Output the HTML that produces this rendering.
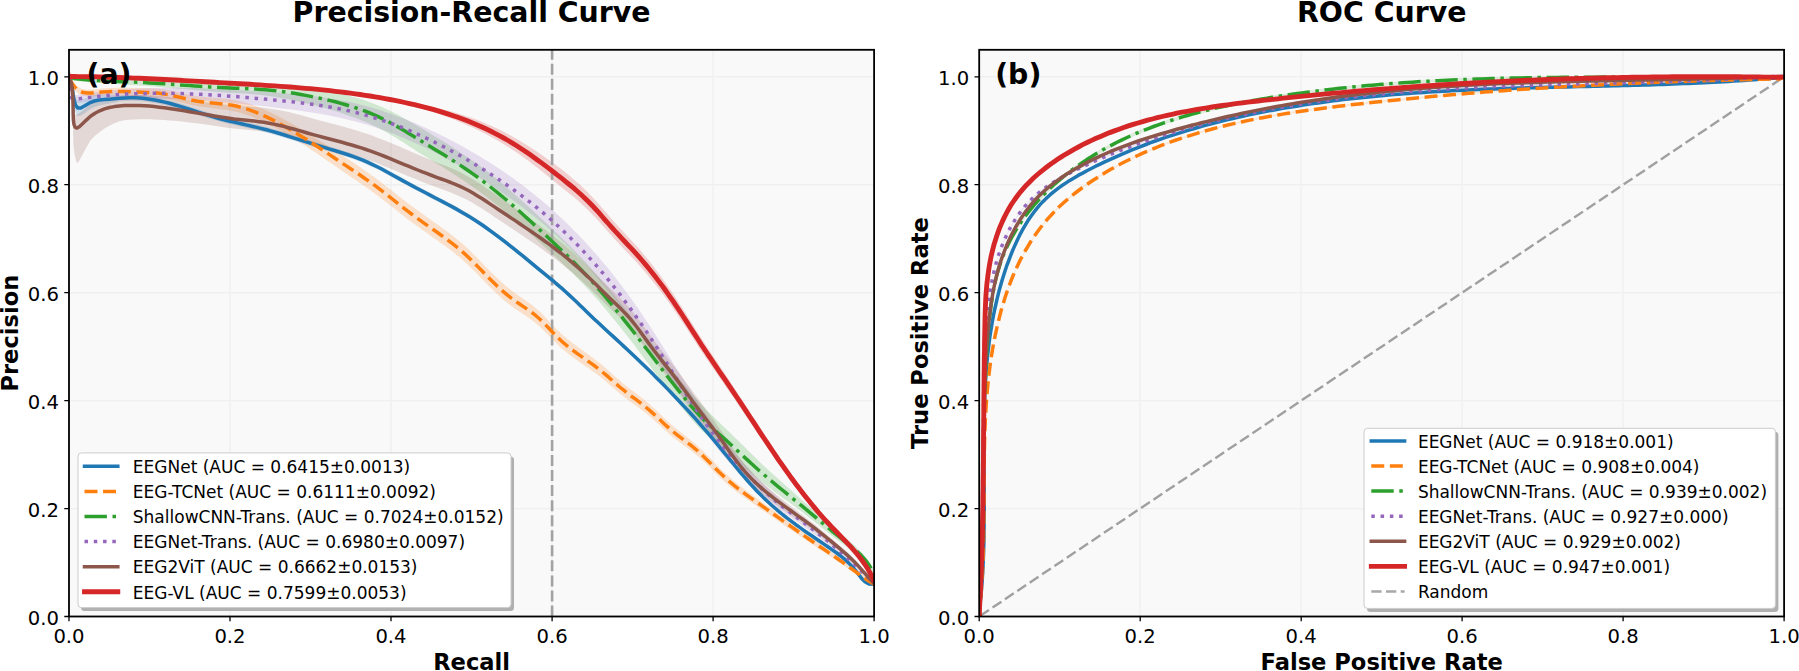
<!DOCTYPE html>
<html><head><meta charset="utf-8"><title>Precision-Recall and ROC Curves</title>
<style>
html,body{margin:0;padding:0;background:#fff;}
body{width:1799px;height:671px;overflow:hidden;}
svg{display:block;}
text{font-family:"DejaVu Sans","Liberation Sans",sans-serif;fill:#000;}
.tk{font-size:19.6px;}
.lg{font-size:17px;}
.ti{font-size:28.4px;font-weight:bold;}
.lb{font-size:22.6px;font-weight:bold;}
.pl{font-size:28.3px;font-weight:bold;}
</style></head><body>
<svg width="1799" height="671" viewBox="0 0 1799 671">
<rect width="100%" height="100%" fill="#fff"/>
<rect x="69" y="49.8" width="805.1" height="566.7" fill="#f9f9f9"/>
<clipPath id="cl"><rect x="69" y="49.8" width="805.1" height="566.7"/></clipPath>
<path d="M69,49.8V616.5M69,616.5H874.1M230,49.8V616.5M69,508.6H874.1M391,49.8V616.5M69,400.6H874.1M552.1,49.8V616.5M69,292.7H874.1M713.1,49.8V616.5M69,184.7H874.1M874.1,49.8V616.5M69,76.8H874.1" stroke="#f0f0f0" stroke-width="1.4" fill="none"/>
<g clip-path="url(#cl)">
<path d="M69,73 L71.2,76.4 L72.2,81.8 L73.1,87.7 L74.1,93.4 L75.5,97.7 L77.6,100 L80.8,100.4 L84.8,98.7 L89.5,96.4 L94.4,95 L99.3,94.6 L104.3,94.8 L109.4,95 L114.5,95.1 L119.6,95.2 L124.7,94.9 L129.7,94.8 L134.8,94.9 L139.8,95.1 L144.8,95.6 L149.8,96.3 L154.7,97.1 L159.7,98.1 L164.6,99.2 L169.5,100.4 L174.4,101.8 L179.3,103.2 L184.2,104.7 L189.1,106.3 L193.9,107.9 L198.8,109.5 L203.6,111 L208.4,112.5 L213.3,114 L218.1,115.4 L222.9,116.6 L227.8,117.9 L232.6,119 L237.4,120.2 L242.2,121.3 L247.1,122.4 L251.9,123.5 L256.8,124.6 L261.6,125.8 L266.5,127.1 L271.3,128.4 L276.2,129.8 L281.1,131.3 L286,132.8 L290.9,134.4 L295.8,135.9 L300.6,137.5 L305.5,139.1 L310.4,140.6 L315.2,142.1 L320.1,143.5 L324.9,145 L329.7,146.4 L334.5,147.9 L339.3,149.4 L344.1,150.9 L348.8,152.5 L353.5,154.1 L358.2,155.8 L362.8,157.7 L367.4,159.6 L372,161.7 L376.6,163.9 L381.2,166.3 L385.7,168.7 L390.2,171.2 L394.7,173.6 L399.1,176.1 L403.6,178.6 L408,181 L412.4,183.4 L416.8,185.7 L421.2,188.1 L425.6,190.4 L430,192.7 L434.4,195 L438.9,197.4 L443.4,199.7 L447.9,202.1 L452.4,204.5 L456.9,207 L461.3,209.5 L465.7,212.1 L470,214.7 L474.3,217.4 L478.5,220.2 L482.7,223 L486.8,225.9 L490.8,228.8 L494.9,231.8 L498.9,234.8 L502.9,237.8 L506.8,240.9 L510.8,244 L514.7,247.2 L518.6,250.3 L522.5,253.5 L526.4,256.7 L530.3,259.9 L534.2,263.2 L538.1,266.4 L542.1,269.7 L546.1,273 L550.1,276.3 L554.1,279.6 L558,282.9 L561.9,286.2 L565.6,289.6 L569.3,293 L572.9,296.3 L576.4,299.7 L579.9,303.1 L583.4,306.5 L586.9,309.9 L590.5,313.4 L594.1,316.8 L597.8,320.2 L601.5,323.7 L605.2,327.2 L609,330.6 L612.8,334.1 L616.6,337.6 L620.3,341 L624.1,344.5 L627.8,348 L631.5,351.5 L635.2,355 L638.9,358.5 L642.5,362.1 L646.2,365.6 L649.8,369.1 L653.4,372.7 L656.9,376.2 L660.5,379.8 L664,383.4 L667.5,387 L671,390.6 L674.5,394.2 L677.9,397.9 L681.4,401.5 L684.8,405.2 L688.2,408.9 L691.6,412.6 L694.9,416.4 L698.3,420.1 L701.6,423.9 L704.9,427.7 L708.2,431.5 L711.4,435.4 L714.7,439.2 L717.9,443.1 L721.1,447 L724.3,451 L727.5,454.9 L730.7,458.8 L733.9,462.7 L737.1,466.7 L740.3,470.5 L743.6,474.4 L746.9,478.2 L750.3,482 L753.7,485.8 L757.1,489.4 L760.7,493.1 L764.2,496.6 L767.9,500.1 L771.6,503.5 L775.4,506.8 L779.3,510.1 L783.2,513.3 L787.2,516.4 L791.2,519.5 L795.3,522.5 L799.4,525.5 L803.5,528.4 L807.6,531.3 L811.8,534.2 L816,537.1 L820.1,539.9 L824.3,542.8 L828.5,545.6 L832.6,548.5 L836.7,551.4 L840.7,554.5 L844.5,557.7 L848.3,561 L851.8,564.7 L855.2,568.6 L858.4,572.8 L861.6,576.9 L865,580.3 L869,582.5 L874.1,582.7 L874.1,585.7 L869,585.5 L865,583.4 L861.6,579.9 L858.4,575.8 L855.2,571.7 L851.8,567.8 L848.3,564.2 L844.5,560.8 L840.7,557.6 L836.7,554.6 L832.6,551.7 L828.5,548.8 L824.3,546 L820.1,543.2 L816,540.3 L811.8,537.5 L807.6,534.6 L803.5,531.7 L799.4,528.8 L795.3,525.8 L791.2,522.8 L787.2,519.8 L783.2,516.6 L779.3,513.5 L775.4,510.2 L771.6,506.9 L767.9,503.6 L764.2,500.1 L760.7,496.5 L757.1,492.9 L753.7,489.3 L750.3,485.5 L746.9,481.8 L743.6,478 L740.3,474.1 L737.1,470.2 L733.9,466.3 L730.7,462.4 L727.5,458.5 L724.3,454.6 L721.1,450.7 L717.9,446.8 L714.7,442.9 L711.4,439.1 L708.2,435.2 L704.9,431.4 L701.6,427.6 L698.3,423.9 L694.9,420.1 L691.6,416.4 L688.2,412.7 L684.8,409 L681.4,405.4 L677.9,401.7 L674.5,398.1 L671,394.5 L667.5,390.9 L664,387.3 L660.5,383.7 L656.9,380.2 L653.4,376.6 L649.8,373.1 L646.2,369.5 L642.5,366 L638.9,362.5 L635.2,359 L631.5,355.5 L627.8,352.1 L624.1,348.6 L620.3,345.1 L616.6,341.7 L612.8,338.2 L609,334.7 L605.2,331.3 L601.5,327.8 L597.8,324.4 L594.1,321 L590.5,317.6 L586.9,314.2 L583.4,310.7 L579.9,307.4 L576.4,304 L572.9,300.6 L569.3,297.2 L565.6,293.9 L561.9,290.6 L558,287.2 L554.1,283.9 L550.1,280.6 L546.1,277.3 L542.1,274.1 L538.1,270.8 L534.2,267.6 L530.3,264.4 L526.4,261.2 L522.5,258 L518.6,254.8 L514.7,251.7 L510.8,248.6 L506.8,245.5 L502.9,242.4 L498.9,239.4 L494.9,236.4 L490.8,233.4 L486.8,230.5 L482.7,227.7 L478.5,224.9 L474.3,222.1 L470,219.4 L465.7,216.8 L461.3,214.2 L456.9,211.7 L452.4,209.3 L447.9,206.9 L443.4,204.5 L438.9,202.2 L434.4,199.9 L430,197.6 L425.6,195.3 L421.2,193 L416.8,190.7 L412.4,188.3 L408,186 L403.6,183.6 L399.1,181.1 L394.7,178.7 L390.2,176.2 L385.7,173.7 L381.2,171.3 L376.6,169 L372,166.8 L367.4,164.7 L362.8,162.8 L358.2,161 L353.5,159.3 L348.8,157.6 L344.1,156.1 L339.3,154.6 L334.5,153.1 L329.7,151.7 L324.9,150.3 L320.1,148.8 L315.2,147.4 L310.4,145.9 L305.5,144.4 L300.6,142.9 L295.8,141.3 L290.9,139.8 L286,138.2 L281.1,136.7 L276.2,135.3 L271.3,133.9 L266.5,132.6 L261.6,131.3 L256.8,130.1 L251.9,129 L247.1,127.9 L242.2,126.8 L237.4,125.7 L232.6,124.6 L227.8,123.5 L222.9,122.3 L218.1,121 L213.3,119.6 L208.4,118.2 L203.6,116.7 L198.8,115.2 L193.9,113.6 L189.1,112.1 L184.2,110.5 L179.3,109 L174.4,107.6 L169.5,106.3 L164.6,105 L159.7,103.9 L154.7,103 L149.8,102.2 L144.8,101.5 L139.8,101.1 L134.8,100.8 L129.7,100.7 L124.7,100.9 L119.6,101.3 L114.5,102.4 L109.4,103.4 L104.3,104.4 L99.3,105.4 L94.4,107 L89.5,109.5 L84.8,112.9 L80.8,115.5 L77.6,115.9 L75.5,112.5 L74.1,107.2 L73.1,100.8 L72.2,94.2 L71.2,88 L69,83 Z" fill="#1f77b4" fill-opacity="0.2" stroke="none"/>
<path d="M69,75 L71.5,79.5 L74.5,83.8 L78.2,87.1 L82.4,89 L87.2,89.7 L92.2,89.5 L97.4,89 L102.5,88.4 L107.6,88.1 L112.6,87.9 L117.6,87.7 L122.6,87.7 L127.6,87.8 L132.5,87.9 L137.5,88 L142.5,88.1 L147.5,88.2 L152.5,88.4 L157.5,88.8 L162.5,89.3 L167.6,90.1 L172.6,91 L177.6,92.1 L182.7,93.3 L187.7,94.4 L192.7,95.4 L197.7,96.2 L202.7,96.8 L207.7,97.3 L212.7,97.7 L217.6,98.1 L222.5,98.5 L227.4,99 L232.3,99.6 L237.2,100.5 L242,101.6 L246.7,103 L251.5,104.5 L256.2,106.3 L260.8,108.1 L265.4,110.1 L270,112.2 L274.5,114.4 L279,116.7 L283.4,119 L287.8,121.4 L292.1,123.8 L296.4,126.3 L300.7,128.9 L305,131.4 L309.2,134.1 L313.5,136.7 L317.7,139.4 L321.9,142.1 L326.1,144.8 L330.3,147.5 L334.5,150.3 L338.7,153 L342.9,155.7 L347.1,158.4 L351.3,161.2 L355.5,164 L359.7,166.8 L363.8,169.7 L368,172.6 L372,175.5 L376.1,178.4 L380,181.4 L383.9,184.4 L387.8,187.4 L391.7,190.5 L395.5,193.6 L399.4,196.7 L403.4,199.8 L407.4,202.9 L411.6,206 L415.7,209.1 L419.9,212.1 L424,215.1 L428.2,218 L432.3,220.9 L436.4,223.8 L440.5,226.7 L444.5,229.6 L448.5,232.6 L452.5,235.6 L456.3,238.7 L460.2,241.8 L463.9,245.1 L467.6,248.5 L471.2,251.9 L474.8,255.5 L478.3,259.1 L481.9,262.7 L485.4,266.4 L488.9,270 L492.5,273.6 L496.1,277.1 L499.8,280.6 L503.6,284 L507.5,287.3 L511.4,290.4 L515.5,293.4 L519.6,296.3 L523.8,299.2 L527.9,302.1 L532,305.1 L535.9,308.2 L539.7,311.5 L543.3,315.1 L546.8,318.7 L550.3,322.5 L553.8,326.2 L557.3,329.9 L561,333.4 L564.9,336.8 L568.8,340.1 L572.9,343.3 L577,346.3 L581,349.2 L585.1,352.1 L589,355 L593,357.9 L596.9,360.9 L600.8,364 L604.7,367.3 L608.6,370.7 L612.5,374.2 L616.4,377.7 L620.3,381.1 L624.3,384.4 L628.2,387.5 L632.2,390.5 L636.2,393.5 L640.1,396.5 L644,399.6 L647.8,402.8 L651.6,406.1 L655.4,409.6 L659.1,413.1 L662.8,416.7 L666.5,420.2 L670.3,423.7 L674.2,427 L678.1,430.2 L682.1,433.3 L686.1,436.4 L690.1,439.5 L694,442.7 L697.8,446 L701.5,449.4 L705.1,453 L708.7,456.6 L712.3,460.3 L715.8,464 L719.4,467.7 L723.1,471.2 L726.8,474.7 L730.6,478.1 L734.4,481.4 L738.4,484.5 L742.3,487.7 L746.4,490.7 L750.4,493.7 L754.5,496.7 L758.6,499.7 L762.7,502.6 L766.9,505.6 L771,508.6 L775.1,511.6 L779.2,514.6 L783.3,517.6 L787.5,520.6 L791.6,523.6 L795.7,526.5 L799.8,529.5 L804,532.5 L808.1,535.4 L812.2,538.3 L816.3,541.2 L820.4,544.1 L824.6,547 L828.7,549.9 L832.8,552.7 L836.9,555.7 L841,558.6 L845.1,561.6 L849.2,564.7 L853.4,567.8 L857.5,570.9 L861.6,573.9 L865.7,576.9 L869.9,579.7 L874.1,582.2 L874.1,586.2 L869.9,583.8 L865.7,581.1 L861.6,578.3 L857.5,575.4 L853.4,572.4 L849.2,569.5 L845.1,566.5 L841,563.7 L836.9,560.9 L832.8,558.1 L828.7,555.3 L824.6,552.6 L820.4,549.8 L816.3,547.1 L812.2,544.3 L808.1,541.5 L804,538.7 L799.8,535.9 L795.7,533.1 L791.6,530.2 L787.5,527.4 L783.3,524.5 L779.2,521.7 L775.1,518.8 L771,516 L766.9,513.1 L762.7,510.2 L758.6,507.4 L754.5,504.5 L750.4,501.7 L746.4,498.8 L742.3,496 L738.4,493 L734.4,490 L730.6,486.9 L726.8,483.7 L723.1,480.3 L719.4,476.9 L715.8,473.4 L712.3,469.8 L708.7,466.3 L705.1,462.8 L701.5,459.4 L697.8,456.1 L694,452.9 L690.1,449.9 L686.1,446.9 L682.1,444 L678.1,441.1 L674.2,438.1 L670.3,434.9 L666.5,431.5 L662.8,428.2 L659.1,424.7 L655.4,421.4 L651.6,418 L647.8,414.8 L644,411.7 L640.1,408.8 L636.2,405.9 L632.2,403 L628.2,400.1 L624.3,397 L620.3,393.9 L616.4,390.6 L612.5,387.2 L608.6,383.8 L604.7,380.5 L600.8,377.3 L596.9,374.3 L593,371.4 L589,368.6 L585.1,365.9 L581,363.1 L577,360.2 L572.9,357.3 L568.8,354.3 L564.9,351.1 L561,347.8 L557.3,344.3 L553.8,340.8 L550.3,337.1 L546.8,333.5 L543.3,329.9 L539.7,326.5 L535.9,323.2 L532,320.2 L527.9,317.3 L523.8,314.5 L519.6,311.8 L515.5,309 L511.4,306.1 L507.5,303.1 L503.6,299.9 L499.8,296.6 L496.1,293.1 L492.5,289.6 L488.9,286 L485.4,282.4 L481.9,278.7 L478.3,275.1 L474.8,271.5 L471.2,267.9 L467.6,264.5 L463.9,261.1 L460.2,257.8 L456.3,254.7 L452.5,251.6 L448.5,248.6 L444.5,245.6 L440.5,242.7 L436.4,239.8 L432.3,236.9 L428.2,234 L424,231.1 L419.9,228.1 L415.7,225.1 L411.6,222 L407.4,218.9 L403.4,215.8 L399.4,212.7 L395.5,209.6 L391.7,206.5 L387.8,203.4 L383.9,200.4 L380,197.4 L376.1,194.4 L372,191.5 L368,188.6 L363.8,185.7 L359.7,182.8 L355.5,180 L351.3,177.2 L347.1,174.3 L342.9,171.4 L338.7,168.5 L334.5,165.6 L330.3,162.7 L326.1,159.9 L321.9,157 L317.7,154.1 L313.5,151.3 L309.2,148.4 L305,145.6 L300.7,142.9 L296.4,140.2 L292.1,137.5 L287.8,134.9 L283.4,132.3 L279,129.8 L274.5,127.4 L270,125 L265.4,122.8 L260.8,120.6 L256.2,118.5 L251.5,116.6 L246.7,114.9 L242,113.3 L237.2,112 L232.3,110.9 L227.4,110.1 L222.5,109.4 L217.6,108.8 L212.7,108.2 L207.7,107.6 L202.7,106.9 L197.7,106.2 L192.7,105.2 L187.7,104 L182.7,102.8 L177.6,101.5 L172.6,100.2 L167.6,99.1 L162.5,98.1 L157.5,97.5 L152.5,97 L147.5,96.6 L142.5,96.3 L137.5,96.1 L132.5,95.8 L127.6,95.6 L122.6,95.4 L117.6,95.2 L112.6,95.2 L107.6,95.3 L102.5,95.5 L97.4,95.8 L92.2,96.2 L87.2,96.2 L82.4,95.4 L78.2,93.4 L74.5,89.9 L71.5,85.5 L69,81 Z" fill="#ff7f0e" fill-opacity="0.2" stroke="none"/>
<path d="M69,75.5 L73.9,76.3 L79,76.9 L84.1,77.3 L89.1,77.6 L94.2,77.9 L99.2,78.1 L104.2,78.3 L109.3,78.4 L114.3,78.5 L119.3,78.6 L124.4,78.7 L129.4,78.9 L134.4,79 L139.4,79.1 L144.5,79.3 L149.5,79.5 L154.5,79.8 L159.5,80 L164.5,80.2 L169.5,80.5 L174.6,80.8 L179.6,81 L184.6,81.3 L189.6,81.6 L194.7,81.9 L199.7,82.1 L204.7,82.4 L209.8,82.6 L214.8,82.8 L219.9,83 L224.9,83.2 L230,83.4 L235,83.5 L240.1,83.6 L245.2,83.7 L250.3,83.9 L255.3,83.9 L260.4,83.9 L265.5,84 L270.5,84.2 L275.6,84.5 L280.6,84.8 L285.7,85.3 L290.7,85.8 L295.7,86.3 L300.7,87 L305.7,87.6 L310.7,88.3 L315.7,89.1 L320.6,89.9 L325.5,90.7 L330.4,91.6 L335.3,92.6 L340.1,93.6 L344.9,94.7 L349.7,95.9 L354.4,97.2 L359.2,98.6 L363.9,100.1 L368.5,101.7 L373.1,103.4 L377.7,105.3 L382.2,107.2 L386.7,109.3 L391.2,111.5 L395.7,113.7 L400.1,116.1 L404.5,118.5 L408.8,120.9 L413.2,123.4 L417.5,125.9 L421.9,128.4 L426.2,131.1 L430.6,133.7 L434.9,136.4 L439.2,139 L443.5,141.6 L447.8,144.3 L452,147 L456.3,149.7 L460.5,152.4 L464.7,155.2 L468.8,158 L472.9,160.9 L477,163.8 L481.1,166.8 L485.1,169.8 L489,172.8 L493,176 L496.9,179.1 L500.8,182.3 L504.7,185.6 L508.5,188.9 L512.4,192.2 L516.2,195.6 L520,199 L523.8,202.4 L527.5,205.8 L531.3,209.3 L535,212.8 L538.7,216.3 L542.5,219.8 L546.2,223.3 L549.9,226.8 L553.6,230.3 L557.2,233.8 L560.9,237.3 L564.5,240.7 L568.1,244.2 L571.6,247.8 L575.2,251.4 L578.7,255 L582.1,258.6 L585.6,262.3 L589,266.1 L592.4,269.9 L595.7,273.7 L599.1,277.5 L602.4,281.4 L605.6,285.2 L608.9,289 L612.1,292.9 L615.3,296.8 L618.5,300.7 L621.7,304.7 L624.8,308.6 L628,312.5 L631.1,316.5 L634.2,320.5 L637.2,324.4 L640.3,328.4 L643.4,332.4 L646.4,336.4 L649.5,340.3 L652.5,344.3 L655.6,348.3 L658.6,352.3 L661.7,356.2 L664.8,360.2 L667.8,364.2 L670.9,368.1 L674,372.1 L677.2,376 L680.3,379.9 L683.5,383.9 L686.7,387.7 L689.9,391.6 L693.2,395.4 L696.6,399.1 L700,402.8 L703.5,406.6 L707,410.4 L710.7,414.1 L714.4,417.7 L718.1,421.3 L721.9,424.9 L725.7,428.4 L729.4,432 L733.1,435.7 L736.8,439.3 L740.5,443 L744.2,446.6 L747.9,450.3 L751.6,453.9 L755.4,457.6 L759.1,461.3 L762.9,464.9 L766.8,468.5 L770.6,472 L774.5,475.6 L778.4,479.1 L782.3,482.6 L786.2,486.1 L790.2,489.6 L794.1,493.1 L798,496.6 L801.9,500 L805.8,503.3 L809.7,506.7 L813.6,510.1 L817.4,513.5 L821.3,516.9 L825.2,520.3 L829,523.7 L832.9,527.1 L836.8,530.5 L840.8,533.8 L844.7,537.1 L848.7,540.4 L852.6,543.8 L856.4,547.2 L860.1,550.8 L863.5,554.5 L866.7,558.4 L869.6,562.6 L872.1,567.1 L874.1,572 L874.1,578 L872.1,573.3 L869.6,569 L866.7,565 L863.5,561.4 L860.1,557.9 L856.4,554.6 L852.6,551.5 L848.7,548.5 L844.7,545.5 L840.8,542.5 L836.8,539.5 L832.9,536.4 L829,533.4 L825.2,530.3 L821.3,527.2 L817.4,524.1 L813.6,521 L809.7,517.9 L805.8,514.9 L801.9,511.8 L798,508.9 L794.1,506 L790.2,503.2 L786.2,500.3 L782.3,497.4 L778.4,494.6 L774.5,491.7 L770.6,488.7 L766.8,485.8 L762.9,482.8 L759.1,479.8 L755.4,476.8 L751.6,473.7 L747.9,470.5 L744.2,467.3 L740.5,464.1 L736.8,460.9 L733.1,457.7 L729.4,454.5 L725.7,451.3 L721.9,448.2 L718.1,445.1 L714.4,442 L710.7,438.8 L707,435.5 L703.5,432.2 L700,428.8 L696.6,425 L693.2,421.2 L689.9,417.4 L686.7,413.5 L683.5,409.5 L680.3,405.6 L677.2,401.6 L674,397.6 L670.9,393.6 L667.8,389.5 L664.8,385.5 L661.7,381.5 L658.6,377.4 L655.6,373.4 L652.5,369.4 L649.5,365.3 L646.4,361.3 L643.4,357.2 L640.3,353.2 L637.2,349.2 L634.2,345.1 L631.1,341.1 L628,337.1 L624.8,333.1 L621.7,329.1 L618.5,325.1 L615.3,321.1 L612.1,317.2 L608.9,313.2 L605.6,309.3 L602.4,305.4 L599.1,301.5 L595.7,297.8 L592.4,294 L589,290.3 L585.6,286.6 L582.1,283 L578.7,279.4 L575.2,275.9 L571.6,272.3 L568.1,268.9 L564.5,265.5 L560.9,262 L557.2,258.6 L553.6,255.2 L549.9,251.8 L546.2,248.4 L542.5,244.9 L538.7,241.5 L535,238.1 L531.3,234.7 L527.5,231.3 L523.8,227.9 L520,224.6 L516.2,221.3 L512.4,218 L508.5,214.7 L504.7,211.5 L500.8,208.3 L496.9,205.1 L493,202 L489,198.8 L485.1,195.8 L481.1,192.8 L477,189.8 L472.9,186.9 L468.8,184 L464.7,181.2 L460.5,178.4 L456.3,175.7 L452,173 L447.8,170.3 L443.5,167.6 L439.2,165 L434.9,162.4 L430.6,159.7 L426.2,157.1 L421.9,154.4 L417.5,151.7 L413.2,148.8 L408.8,146 L404.5,143.1 L400.1,140.4 L395.7,137.6 L391.2,135 L386.7,132.4 L382.2,130 L377.7,127.6 L373.1,125.4 L368.5,123.3 L363.9,121.3 L359.2,119.4 L354.4,117.6 L349.7,115.9 L344.9,114.2 L340.1,112.6 L335.3,111.1 L330.4,109.7 L325.5,108.3 L320.6,106.9 L315.7,105.6 L310.7,104.4 L305.7,103.2 L300.7,102 L295.7,100.9 L290.7,99.8 L285.7,98.8 L280.6,97.9 L275.6,97.1 L270.5,96.3 L265.5,95.6 L260.4,95 L255.3,94.4 L250.3,93.9 L245.2,93.6 L240.1,93.3 L235,93 L230,92.7 L224.9,92.4 L219.9,92 L214.8,91.7 L209.8,91.3 L204.7,90.9 L199.7,90.4 L194.7,90 L189.6,89.6 L184.6,89.1 L179.6,88.7 L174.6,88.3 L169.5,87.8 L164.5,87.4 L159.5,87 L154.5,86.6 L149.5,86.2 L144.5,85.8 L139.4,85.5 L134.4,85.2 L129.4,84.9 L124.4,84.6 L119.3,84.3 L114.3,84 L109.3,83.8 L104.2,83.5 L99.2,83.1 L94.2,82.7 L89.1,82.3 L84.1,81.8 L79,81.2 L73.9,80.5 L69,79.5 Z" fill="#2ca02c" fill-opacity="0.2" stroke="none"/>
<path d="M69,74 L70.5,79.9 L69.7,89.9 L71.9,94.2 L76.1,94.9 L81,94.2 L86,93.5 L91,92.8 L95.9,92.2 L100.9,91.6 L105.8,91 L110.8,90.5 L115.8,90.1 L120.7,89.7 L125.7,89.3 L130.7,88.9 L135.7,88.7 L140.7,88.4 L145.7,88.2 L150.7,88 L155.7,87.9 L160.7,87.8 L165.8,87.8 L170.8,87.7 L175.9,87.8 L180.9,87.8 L185.9,87.9 L191,88 L196.1,88.1 L201.1,88.3 L206.2,88.5 L211.2,88.7 L216.3,88.9 L221.3,89.1 L226.4,89.4 L231.5,89.6 L236.5,89.9 L241.6,90.2 L246.6,90.5 L251.7,90.9 L256.7,91.2 L261.8,91.6 L266.8,91.9 L271.8,92.3 L276.8,92.7 L281.8,93.1 L286.9,93.5 L291.9,94 L296.8,94.4 L301.8,94.9 L306.8,95.4 L311.8,96 L316.7,96.6 L321.7,97.2 L326.6,97.9 L331.5,98.7 L336.4,99.5 L341.3,100.4 L346.2,101.3 L351.1,102.3 L355.9,103.5 L360.7,104.7 L365.6,105.9 L370.4,107.3 L375.1,108.7 L379.9,110.1 L384.7,111.7 L389.4,113.3 L394.1,114.9 L398.8,116.7 L403.5,118.5 L408.2,120.3 L412.8,122.2 L417.4,124.2 L422,126.2 L426.6,128.3 L431.2,130.4 L435.7,132.6 L440.2,134.8 L444.7,137 L449.2,139.3 L453.7,141.7 L458.1,144.1 L462.5,146.5 L466.9,149 L471.2,151.5 L475.6,154 L479.9,156.6 L484.2,159.2 L488.4,161.8 L492.7,164.5 L496.9,167.2 L501,170 L505.2,172.8 L509.3,175.7 L513.4,178.6 L517.4,181.6 L521.5,184.6 L525.5,187.6 L529.4,190.7 L533.4,193.8 L537.2,196.9 L541.1,200.1 L544.9,203.3 L548.7,206.6 L552.5,209.9 L556.2,213.3 L559.9,216.7 L563.5,220.1 L567.1,223.6 L570.7,227.1 L574.2,230.7 L577.8,234.3 L581.2,237.9 L584.7,241.6 L588.1,245.3 L591.4,249 L594.8,252.8 L598.1,256.6 L601.3,260.4 L604.6,264.2 L607.8,268.1 L611,272 L614.1,276 L617.2,280 L620.3,283.9 L623.3,288 L626.3,292.1 L629.3,296.2 L632.3,300.3 L635.2,304.4 L638.1,308.6 L641,312.8 L643.8,317 L646.6,321.2 L649.4,325.4 L652.1,329.7 L654.9,333.9 L657.6,338.2 L660.3,342.5 L663,346.8 L665.7,351.1 L668.4,355.3 L671,359.6 L673.7,363.9 L676.4,368.2 L679,372.5 L681.7,376.8 L684.4,381.1 L687.1,385.3 L689.9,389.6 L692.6,393.8 L695.4,398 L698.1,402.2 L701,406.5 L703.8,410.8 L706.7,415.1 L709.6,419.3 L712.5,423.6 L715.5,427.8 L718.6,432 L721.6,436.1 L724.8,440.2 L727.9,444.3 L731.2,448.4 L734.5,452.4 L737.8,456.4 L741.2,460.4 L744.6,464.3 L748.1,468.1 L751.6,472 L755.2,475.7 L758.8,479.5 L762.5,483.1 L766.2,486.7 L770,490.3 L773.8,493.8 L777.7,497.3 L781.6,500.7 L785.5,504 L789.5,507.3 L793.5,510.6 L797.5,513.8 L801.5,517 L805.6,520.2 L809.6,523.3 L813.6,526.4 L817.6,529.6 L821.6,532.7 L825.5,535.9 L829.4,539.2 L833.3,542.5 L837.1,545.9 L840.9,549.3 L844.7,552.8 L848.4,556.3 L852.1,559.8 L855.8,563.3 L859.5,566.9 L863.1,570.4 L866.7,574 L870.4,577.5 L874.1,581 L874.1,585 L870.4,581.7 L866.7,578.4 L863.1,575 L859.5,571.6 L855.8,568.3 L852.1,565 L848.4,561.6 L844.7,558.4 L840.9,555.1 L837.1,551.9 L833.3,548.7 L829.4,545.6 L825.5,542.6 L821.6,539.6 L817.6,536.6 L813.6,533.7 L809.6,530.8 L805.6,527.9 L801.5,525 L797.5,522.1 L793.5,519.4 L789.5,516.6 L785.5,513.7 L781.6,510.9 L777.7,507.9 L773.8,505 L770,501.9 L766.2,498.8 L762.5,495.6 L758.8,492.4 L755.2,489.1 L751.6,485.8 L748.1,482.4 L744.6,478.9 L741.2,475.4 L737.8,471.9 L734.5,468.3 L731.2,464.7 L727.9,461 L724.8,457.3 L721.6,453.5 L718.6,449.7 L715.5,445.9 L712.5,442.1 L709.6,438.2 L706.7,434.3 L703.8,430.3 L701,426.4 L698.1,422.3 L695.4,418.1 L692.6,414 L689.9,409.8 L687.1,405.6 L684.4,401.4 L681.7,397.2 L679,393 L676.4,388.8 L673.7,384.6 L671,380.4 L668.4,376.1 L665.7,371.9 L663,367.7 L660.3,363.5 L657.6,359.3 L654.9,355.1 L652.1,350.9 L649.4,346.7 L646.6,342.5 L643.8,338.4 L641,334.3 L638.1,330.2 L635.2,326.1 L632.3,322 L629.3,317.9 L626.3,313.9 L623.3,309.9 L620.3,305.9 L617.2,302 L614.1,298 L611,294 L607.8,290.1 L604.6,286.2 L601.3,282.4 L598.1,278.6 L594.8,274.8 L591.4,271 L588.1,267.3 L584.7,263.6 L581.2,259.9 L577.8,256.3 L574.2,252.7 L570.7,249.1 L567.1,245.6 L563.5,242.1 L559.9,238.7 L556.2,235.3 L552.5,231.9 L548.7,228.6 L544.9,225.3 L541.1,222.1 L537.2,218.9 L533.4,215.8 L529.4,212.7 L525.5,209.6 L521.5,206.6 L517.4,203.6 L513.4,200.6 L509.3,197.7 L505.2,194.8 L501,192 L496.9,189.1 L492.7,186.3 L488.4,183.5 L484.2,180.8 L479.9,178 L475.6,175.4 L471.2,172.7 L466.9,170.1 L462.5,167.5 L458.1,165 L453.7,162.4 L449.2,160 L444.7,157.6 L440.2,155.2 L435.7,152.8 L431.2,150.5 L426.6,148.3 L422,146.1 L417.4,144 L412.8,141.9 L408.2,139.9 L403.5,137.9 L398.8,136 L394.1,134.1 L389.4,132.3 L384.7,130.6 L379.9,128.9 L375.1,127.3 L370.4,125.8 L365.6,124.3 L360.7,122.9 L355.9,121.6 L351.1,120.4 L346.2,119.2 L341.3,118 L336.4,117 L331.5,116 L326.6,115 L321.7,114.1 L316.7,113.3 L311.8,112.5 L306.8,111.7 L301.8,111 L296.8,110.3 L291.9,109.6 L286.9,109 L281.8,108.4 L276.8,107.8 L271.8,107.2 L266.8,106.6 L261.8,106 L256.7,105.5 L251.7,104.9 L246.6,104.4 L241.6,103.9 L236.5,103.4 L231.5,102.9 L226.4,102.4 L221.3,102 L216.3,101.5 L211.2,101.1 L206.2,100.7 L201.1,100.3 L196.1,100 L191,99.7 L185.9,99.5 L180.9,99.2 L175.9,99 L170.8,98.9 L165.8,98.7 L160.7,98.6 L155.7,98.6 L150.7,98.5 L145.7,98.5 L140.7,98.6 L135.7,98.7 L130.7,98.8 L125.7,99 L120.7,99.2 L115.8,99.5 L110.8,99.8 L105.8,100.2 L100.9,100.6 L95.9,101 L91,101.5 L86,102 L81,102.6 L76.1,103.1 L71.9,102.2 L69.7,97.9 L70.5,88 L69,82 Z" fill="#9467bd" fill-opacity="0.2" stroke="none"/>
<path d="M69,70 L71.3,72.9 L72.3,78.1 L72.8,84.3 L73,90.9 L73.1,97.5 L73.2,103.7 L73.4,109 L74,112.8 L75,114.7 L76.8,114.3 L79.3,113.2 L82.5,110.7 L86.3,107.5 L90.5,104.3 L95,101.5 L99.7,99.4 L104.5,97.9 L109.4,96.8 L114.4,96.2 L119.4,95.9 L124.3,95.5 L129.3,95.2 L134.3,95 L139.3,95 L144.3,95.1 L149.3,95.4 L154.3,95.7 L159.3,96.2 L164.3,96.7 L169.3,97.3 L174.3,97.9 L179.3,98.5 L184.3,99.2 L189.3,100 L194.2,100.7 L199.2,101.4 L204.2,102.1 L209.2,102.7 L214.2,103.4 L219.2,104 L224.2,104.5 L229.1,105 L234.1,105.5 L239.1,105.9 L244.1,106.2 L249,106.5 L254,106.9 L258.9,107.3 L263.9,107.8 L268.8,108.4 L273.8,109.2 L278.7,110.1 L283.6,111 L288.6,112.1 L293.5,113.3 L298.4,114.5 L303.3,115.8 L308.2,117.2 L313.1,118.6 L317.9,119.9 L322.8,121.2 L327.6,122.5 L332.5,123.8 L337.3,125 L342.1,126.3 L346.9,127.7 L351.7,129 L356.5,130.5 L361.3,131.9 L366,133.5 L370.8,135.1 L375.5,136.9 L380.2,138.7 L384.9,140.5 L389.6,142.4 L394.3,144.4 L399,146.3 L403.7,148.4 L408.4,150.5 L413,152.5 L417.7,154.6 L422.4,156.6 L427.2,158.5 L431.9,160.5 L436.6,162.4 L441.3,164.2 L446.1,166.1 L450.8,168 L455.4,170.1 L460,172.2 L464.5,174.4 L469,176.9 L473.3,179.5 L477.6,182.2 L481.9,185 L486.1,187.9 L490.3,190.8 L494.5,193.7 L498.7,196.7 L502.9,199.6 L507.1,202.6 L511.3,205.5 L515.6,208.4 L519.7,211.3 L523.9,214.3 L528.1,217.2 L532.3,220.2 L536.4,223.2 L540.5,226.2 L544.6,229.3 L548.7,232.4 L552.7,235.5 L556.7,238.7 L560.7,241.9 L564.6,245.1 L568.5,248.4 L572.3,251.8 L576.1,255.2 L579.9,258.7 L583.6,262.2 L587.2,265.7 L590.9,269.3 L594.5,272.9 L598.1,276.6 L601.7,280.2 L605.3,283.7 L608.9,287.3 L612.6,290.8 L616.2,294.3 L619.8,297.8 L623.3,301.4 L626.8,305 L630.1,308.7 L633.3,312.6 L636.4,316.5 L639.4,320.5 L642.3,324.5 L645.2,328.5 L648.2,332.6 L651.2,336.7 L654.2,340.8 L657.3,344.8 L660.5,348.9 L663.6,352.9 L666.8,356.9 L670,360.9 L673.1,364.9 L676.2,368.9 L679.2,372.9 L682.2,376.9 L685.1,380.9 L688,384.9 L690.9,388.8 L693.8,392.9 L696.8,396.9 L699.8,400.9 L702.8,405.1 L705.9,409.3 L709,413.6 L712,417.8 L715.1,422.1 L718.1,426.4 L721.1,430.7 L724,435.1 L726.9,439.4 L729.8,443.7 L732.7,447.9 L735.7,452.2 L738.7,456.3 L741.8,460.4 L745,464.4 L748.4,468.3 L751.8,472.1 L755.4,475.9 L759.1,479.5 L762.9,483 L766.8,486.5 L770.7,489.9 L774.7,493.3 L778.7,496.6 L782.8,499.8 L786.9,503.1 L791,506.3 L795.2,509.5 L799.3,512.7 L803.4,515.8 L807.4,518.9 L811.4,522 L815.4,525.1 L819.3,528.3 L823.2,531.5 L827.1,534.7 L830.9,538 L834.8,541.3 L838.7,544.7 L842.6,548.1 L846.5,551.6 L850.2,555.2 L853.8,558.8 L857.3,562.5 L860.7,566.2 L864,570 L867.3,573.8 L870.6,577.7 L874.1,581.5 L874.1,585.5 L870.6,581.9 L867.3,578.2 L864,574.5 L860.7,570.9 L857.3,567.4 L853.8,563.9 L850.2,560.5 L846.5,557.1 L842.6,553.8 L838.7,550.6 L834.8,547.4 L830.9,544.3 L827.1,541.2 L823.2,538.2 L819.3,535.2 L815.4,532.3 L811.4,529.4 L807.4,526.5 L803.4,523.6 L799.3,520.8 L795.2,518 L791,515.2 L786.9,512.4 L782.8,509.6 L778.7,506.7 L774.7,503.8 L770.7,500.8 L766.8,497.8 L762.9,494.7 L759.1,491.6 L755.4,488.3 L751.8,485 L748.4,481.5 L745,478 L741.8,474.4 L738.7,470.7 L735.7,466.9 L732.7,463 L729.8,459.1 L726.9,455.2 L724,451.2 L721.1,447.2 L718.1,443.2 L715.1,439.3 L712,435.4 L709,431.5 L705.9,427.6 L702.8,423.7 L699.8,419.9 L696.8,415.9 L693.8,411.9 L690.9,407.9 L688,404 L685.1,400 L682.2,396.1 L679.2,392.1 L676.2,388.1 L673.1,384.2 L670,380.2 L666.8,376.2 L663.6,372.3 L660.5,368.3 L657.3,364.3 L654.2,360.2 L651.2,356.2 L648.2,352.1 L645.2,348.1 L642.3,344.1 L639.4,340.1 L636.4,336.1 L633.3,332.2 L630.1,328.4 L626.8,324.8 L623.3,321.2 L619.8,317.6 L616.2,314.1 L612.6,310.7 L608.9,307.2 L605.3,303.7 L601.7,300.2 L598.1,296.6 L594.5,293.1 L590.9,289.6 L587.2,286.1 L583.6,282.7 L579.9,279.3 L576.1,275.9 L572.3,272.6 L568.5,269.4 L564.6,266.2 L560.7,263 L556.7,260 L552.7,256.9 L548.7,253.9 L544.6,251 L540.5,248 L536.4,245.1 L532.3,242.3 L528.1,239.4 L523.9,236.6 L519.7,233.7 L515.6,230.9 L511.3,228.1 L507.1,225.3 L502.9,222.5 L498.7,219.7 L494.5,216.9 L490.3,214.1 L486.1,211.3 L481.9,208.5 L477.6,205.9 L473.3,203.3 L469,200.8 L464.5,198.5 L460,196.4 L455.4,194.4 L450.8,192.5 L446.1,190.7 L441.3,189 L436.6,187.3 L431.9,185.5 L427.2,183.7 L422.4,181.9 L417.7,180 L413,178.1 L408.4,176.2 L403.7,174.3 L399,172.3 L394.3,170.3 L389.6,168.3 L384.9,166.4 L380.2,164.5 L375.5,162.6 L370.8,160.8 L366,159.2 L361.3,157.6 L356.5,156 L351.7,154.6 L346.9,153.1 L342.1,151.8 L337.3,150.4 L332.5,149.1 L327.6,147.7 L322.8,146.4 L317.9,145.1 L313.1,143.7 L308.2,142.3 L303.3,140.8 L298.4,139.4 L293.5,138.1 L288.6,136.8 L283.6,135.6 L278.7,134.4 L273.8,133.4 L268.8,132.5 L263.9,131.7 L258.9,131.1 L254,130.5 L249,130 L244.1,129.5 L239.1,129.1 L234.1,128.5 L229.1,127.9 L224.2,127.3 L219.2,126.5 L214.2,125.8 L209.2,125 L204.2,124.2 L199.2,123.5 L194.2,122.9 L189.3,122.4 L184.3,121.8 L179.3,121.3 L174.3,120.8 L169.3,120.4 L164.3,120 L159.3,119.7 L154.3,119.4 L149.3,119.3 L144.3,119.2 L139.3,119.3 L134.3,119.5 L129.3,119.8 L124.3,120.3 L119.4,121.2 L114.4,123.3 L109.4,125.7 L104.5,128.6 L99.7,131.9 L95,135.7 L90.5,140.2 L86.3,147.5 L82.5,154.8 L79.3,160.7 L76.8,163.3 L75,156.4 L74,150 L73.4,143.7 L73.2,137.5 L73.1,131 L73,124.1 L72.8,116.5 L72.3,108.1 L71.3,98.5 L69,86 Z" fill="#8c564b" fill-opacity="0.2" stroke="none"/>
<path d="M69,75.5 L74,75.5 L79.1,75.6 L84.1,75.6 L89.1,75.7 L94.2,75.7 L99.2,75.8 L104.2,76 L109.3,76.1 L114.3,76.2 L119.3,76.4 L124.4,76.6 L129.4,76.7 L134.4,76.9 L139.4,77.1 L144.4,77.3 L149.5,77.6 L154.5,77.8 L159.5,78 L164.5,78.3 L169.5,78.5 L174.5,78.8 L179.6,79.1 L184.6,79.3 L189.6,79.6 L194.6,79.9 L199.6,80.1 L204.7,80.4 L209.7,80.7 L214.7,81 L219.7,81.3 L224.7,81.5 L229.8,81.8 L234.8,82.1 L239.8,82.4 L244.9,82.6 L249.9,82.9 L254.9,83.2 L260,83.5 L265,83.8 L270,84.2 L275,84.5 L280.1,84.8 L285.1,85.2 L290.1,85.5 L295.1,85.9 L300.2,86.3 L305.2,86.7 L310.2,87.2 L315.2,87.6 L320.2,88.1 L325.2,88.6 L330.2,89.1 L335.2,89.6 L340.2,90.2 L345.2,90.8 L350.2,91.4 L355.2,92.1 L360.1,92.8 L365.1,93.5 L370.1,94.2 L375,95 L380,95.9 L384.9,96.7 L389.9,97.6 L394.8,98.6 L399.7,99.5 L404.6,100.6 L409.5,101.6 L414.4,102.7 L419.3,103.9 L424.2,104.9 L429.1,105.9 L433.9,107 L438.8,108.2 L443.6,109.4 L448.4,110.7 L453.2,112 L457.9,113.4 L462.6,114.9 L467.3,116.5 L472,118.1 L476.7,119.8 L481.3,121.6 L485.8,123.5 L490.4,125.5 L494.9,127.5 L499.3,129.6 L503.7,131.8 L508.1,134.1 L512.4,136.5 L516.7,138.9 L520.9,141.4 L525.1,144 L529.2,146.6 L533.3,149.3 L537.4,152.1 L541.5,154.8 L545.5,157.6 L549.5,160.5 L553.5,163.3 L557.5,166.2 L561.5,169.2 L565.4,172.4 L569.3,175.6 L573.2,178.9 L577,182.2 L580.7,185.6 L584.4,189 L588,192.6 L591.5,196.2 L595,199.9 L598.4,203.6 L601.7,207.4 L605,211.3 L608.3,215.1 L611.7,218.9 L615,222.7 L618.4,226.4 L621.8,230 L625.2,233.7 L628.6,237.4 L632,241 L635.4,244.8 L638.8,248.6 L642.1,252.4 L645.4,256.3 L648.6,260.3 L651.8,264.3 L655,268.5 L658.1,272.6 L661.2,276.8 L664.2,281 L667.1,285.2 L670,289.4 L672.9,293.6 L675.7,297.8 L678.4,302.1 L681.2,306.3 L683.9,310.5 L686.6,314.7 L689.2,319 L691.9,323.2 L694.6,327.5 L697.3,331.7 L700,336 L702.7,340.2 L705.5,344.5 L708.2,348.8 L711.1,353 L713.9,357.3 L716.8,361.6 L719.6,365.9 L722.5,370.1 L725.4,374.4 L728.2,378.7 L731.1,383 L733.9,387.3 L736.7,391.6 L739.5,395.9 L742.3,400.1 L745.1,404.4 L747.9,408.7 L750.6,413 L753.4,417.3 L756.2,421.5 L758.9,425.8 L761.7,430.1 L764.5,434.3 L767.3,438.6 L770.1,442.8 L772.9,447 L775.7,451.3 L778.5,455.5 L781.4,459.7 L784.3,463.8 L787.2,468 L790.1,472.1 L793.1,476.3 L796,480.4 L799.1,484.4 L802.1,488.5 L805.2,492.5 L808.3,496.5 L811.5,500.5 L814.7,504.4 L817.9,508.3 L821.2,512.2 L824.6,516.1 L828,519.9 L831.4,523.7 L834.9,527.4 L838.5,531.1 L842,534.8 L845.5,538.6 L849,542.3 L852.4,546.1 L855.7,550 L858.9,553.9 L861.9,557.9 L864.8,562 L867.5,566.3 L870,570.6 L872.3,575.2 L874.1,580 L874.1,584 L872.3,579.3 L870,574.8 L867.5,570.6 L864.8,566.5 L861.9,562.5 L858.9,558.6 L855.7,554.8 L852.4,551.1 L849,547.5 L845.5,543.9 L842,540.4 L838.5,536.8 L834.9,533.3 L831.4,529.7 L828,526.1 L824.6,522.5 L821.2,518.8 L817.9,515.1 L814.7,511.3 L811.5,507.5 L808.3,503.7 L805.2,499.9 L802.1,496 L799.1,492.1 L796,488.1 L793.1,484.2 L790.1,480.2 L787.2,476.2 L784.3,472.2 L781.4,468.1 L778.5,464.1 L775.7,460 L772.9,455.9 L770.1,451.8 L767.3,447.7 L764.5,443.6 L761.7,439.5 L758.9,435.4 L756.2,431.2 L753.4,427.1 L750.6,423 L747.9,418.8 L745.1,414.7 L742.3,410.6 L739.5,406.5 L736.7,402.4 L733.9,398.2 L731.1,394.1 L728.2,390 L725.4,385.9 L722.5,381.8 L719.6,377.7 L716.8,373.6 L713.9,369.5 L711.1,365.4 L708.2,361.3 L705.5,357.2 L702.7,353.1 L700,349 L697.3,344.9 L694.6,340.8 L691.9,336.7 L689.2,332.6 L686.6,328.6 L683.9,324.5 L681.2,320.4 L678.4,316.3 L675.7,312.3 L672.9,308.2 L670,304.2 L667.1,300.1 L664.2,296.1 L661.2,292.1 L658.1,288.1 L655,284.2 L651.8,280.2 L648.6,276.3 L645.4,272.4 L642.1,268.6 L638.8,264.8 L635.4,261.1 L632,257.4 L628.6,253.8 L625.2,250.3 L621.8,246.7 L618.4,243.1 L615,239.4 L611.7,235.7 L608.3,232 L605,228.3 L601.7,224.5 L598.4,220.8 L595,217.1 L591.5,213.5 L588,209.9 L584.4,206.5 L580.7,203.1 L577,199.8 L573.2,196.6 L569.3,193.4 L565.4,190.2 L561.5,187.2 L557.5,184 L553.5,180.7 L549.5,177.4 L545.5,174.2 L541.5,171 L537.4,167.8 L533.3,164.7 L529.2,161.6 L525.1,158.5 L520.9,155.5 L516.7,152.6 L512.4,149.7 L508.1,146.9 L503.7,144.2 L499.3,141.6 L494.9,139 L490.4,136.5 L485.8,134.1 L481.3,131.8 L476.7,129.5 L472,127.3 L467.3,125.2 L462.6,123.2 L457.9,121.2 L453.2,119.3 L448.4,117.5 L443.6,115.7 L438.8,114.1 L433.9,112.4 L429.1,110.8 L424.2,109.3 L419.3,107.9 L414.4,106.7 L409.5,105.5 L404.6,104.4 L399.7,103.4 L394.8,102.3 L389.9,101.4 L384.9,100.4 L380,99.5 L375,98.7 L370.1,97.8 L365.1,97 L360.1,96.3 L355.2,95.5 L350.2,94.8 L345.2,94.2 L340.2,93.5 L335.2,92.9 L330.2,92.3 L325.2,91.8 L320.2,91.3 L315.2,90.7 L310.2,90.3 L305.2,89.8 L300.2,89.3 L295.1,88.9 L290.1,88.5 L285.1,88.1 L280.1,87.7 L275,87.4 L270,87 L265,86.7 L260,86.4 L254.9,86 L249.9,85.7 L244.9,85.4 L239.8,85.1 L234.8,84.8 L229.8,84.5 L224.7,84.2 L219.7,83.9 L214.7,83.6 L209.7,83.3 L204.7,83 L199.6,82.7 L194.6,82.4 L189.6,82.1 L184.6,81.8 L179.6,81.5 L174.5,81.2 L169.5,81 L164.5,80.7 L159.5,80.4 L154.5,80.2 L149.5,79.9 L144.4,79.7 L139.4,79.4 L134.4,79.2 L129.4,79 L124.4,78.8 L119.3,78.6 L114.3,78.4 L109.3,78.3 L104.2,78.1 L99.2,78 L94.2,77.9 L89.1,77.8 L84.1,77.7 L79.1,77.6 L74,77.5 L69,77.5 Z" fill="#d62728" fill-opacity="0.2" stroke="none"/>
<path d="M552.1,616.5V49.8" stroke="#a2a2a2" stroke-width="2.6" stroke-dasharray="11,4.05"/>
<path d="M69,78 L71.2,82.2 L72.2,88 L73.1,94.3 L74.1,100.3 L75.5,105.1 L77.6,107.9 L80.8,108 L84.8,105.8 L89.5,102.9 L94.4,101 L99.3,100 L104.3,99.6 L109.4,99.2 L114.5,98.7 L119.6,98.2 L124.7,97.9 L129.7,97.8 L134.8,97.8 L139.8,98.1 L144.8,98.6 L149.8,99.2 L154.7,100 L159.7,101 L164.6,102.1 L169.5,103.3 L174.4,104.7 L179.3,106.1 L184.2,107.6 L189.1,109.2 L193.9,110.7 L198.8,112.3 L203.6,113.9 L208.4,115.4 L213.3,116.8 L218.1,118.2 L222.9,119.5 L227.8,120.7 L232.6,121.8 L237.4,122.9 L242.2,124 L247.1,125.1 L251.9,126.3 L256.8,127.4 L261.6,128.6 L266.5,129.8 L271.3,131.1 L276.2,132.5 L281.1,134 L286,135.5 L290.9,137.1 L295.8,138.6 L300.6,140.2 L305.5,141.7 L310.4,143.2 L315.2,144.7 L320.1,146.2 L324.9,147.6 L329.7,149.1 L334.5,150.5 L339.3,152 L344.1,153.5 L348.8,155 L353.5,156.7 L358.2,158.4 L362.8,160.2 L367.4,162.2 L372,164.3 L376.6,166.5 L381.2,168.8 L385.7,171.2 L390.2,173.7 L394.7,176.2 L399.1,178.6 L403.6,181.1 L408,183.5 L412.4,185.9 L416.8,188.2 L421.2,190.5 L425.6,192.8 L430,195.1 L434.4,197.5 L438.9,199.8 L443.4,202.1 L447.9,204.5 L452.4,206.9 L456.9,209.4 L461.3,211.9 L465.7,214.4 L470,217.1 L474.3,219.8 L478.5,222.5 L482.7,225.3 L486.8,228.2 L490.8,231.1 L494.9,234.1 L498.9,237.1 L502.9,240.1 L506.8,243.2 L510.8,246.3 L514.7,249.4 L518.6,252.6 L522.5,255.7 L526.4,258.9 L530.3,262.1 L534.2,265.4 L538.1,268.6 L542.1,271.9 L546.1,275.1 L550.1,278.4 L554.1,281.7 L558,285.1 L561.9,288.4 L565.6,291.7 L569.3,295.1 L572.9,298.5 L576.4,301.8 L579.9,305.2 L583.4,308.6 L586.9,312 L590.5,315.5 L594.1,318.9 L597.8,322.3 L601.5,325.8 L605.2,329.2 L609,332.7 L612.8,336.1 L616.6,339.6 L620.3,343.1 L624.1,346.6 L627.8,350 L631.5,353.5 L635.2,357 L638.9,360.5 L642.5,364 L646.2,367.6 L649.8,371.1 L653.4,374.6 L656.9,378.2 L660.5,381.8 L664,385.3 L667.5,388.9 L671,392.5 L674.5,396.2 L677.9,399.8 L681.4,403.5 L684.8,407.1 L688.2,410.8 L691.6,414.5 L694.9,418.2 L698.3,422 L701.6,425.8 L704.9,429.6 L708.2,433.4 L711.4,437.2 L714.7,441.1 L717.9,445 L721.1,448.9 L724.3,452.8 L727.5,456.7 L730.7,460.6 L733.9,464.5 L737.1,468.4 L740.3,472.3 L743.6,476.2 L746.9,480 L750.3,483.8 L753.7,487.5 L757.1,491.2 L760.7,494.8 L764.2,498.4 L767.9,501.8 L771.6,505.2 L775.4,508.5 L779.3,511.8 L783.2,515 L787.2,518.1 L791.2,521.1 L795.3,524.2 L799.4,527.1 L803.5,530.1 L807.6,533 L811.8,535.8 L816,538.7 L820.1,541.5 L824.3,544.4 L828.5,547.2 L832.6,550.1 L836.7,553 L840.7,556 L844.5,559.2 L848.3,562.6 L851.8,566.2 L855.2,570.1 L858.4,574.3 L861.6,578.4 L865,581.8 L869,584 L874.1,584.2" fill="none" stroke="#1f77b4" stroke-width="3.5" stroke-linejoin="round"/>
<path d="M69,78 L71.5,82.5 L74.5,86.8 L78.2,90.2 L82.4,92.2 L87.2,93 L92.2,92.9 L97.4,92.4 L102.5,92 L107.6,91.7 L112.6,91.5 L117.6,91.5 L122.6,91.5 L127.6,91.7 L132.5,91.8 L137.5,92 L142.5,92.2 L147.5,92.4 L152.5,92.7 L157.5,93.1 L162.5,93.7 L167.6,94.6 L172.6,95.6 L177.6,96.8 L182.7,98 L187.7,99.2 L192.7,100.3 L197.7,101.2 L202.7,101.9 L207.7,102.5 L212.7,102.9 L217.6,103.4 L222.5,103.9 L227.4,104.5 L232.3,105.3 L237.2,106.3 L242,107.5 L246.7,108.9 L251.5,110.6 L256.2,112.4 L260.8,114.4 L265.4,116.4 L270,118.6 L274.5,120.9 L279,123.2 L283.4,125.7 L287.8,128.1 L292.1,130.7 L296.4,133.2 L300.7,135.9 L305,138.5 L309.2,141.2 L313.5,144 L317.7,146.7 L321.9,149.5 L326.1,152.3 L330.3,155.1 L334.5,158 L338.7,160.8 L342.9,163.6 L347.1,166.4 L351.3,169.2 L355.5,172 L359.7,174.8 L363.8,177.7 L368,180.6 L372,183.5 L376.1,186.4 L380,189.4 L383.9,192.4 L387.8,195.4 L391.7,198.5 L395.5,201.6 L399.4,204.7 L403.4,207.8 L407.4,210.9 L411.6,214 L415.7,217.1 L419.9,220.1 L424,223.1 L428.2,226 L432.3,228.9 L436.4,231.8 L440.5,234.7 L444.5,237.6 L448.5,240.6 L452.5,243.6 L456.3,246.7 L460.2,249.8 L463.9,253.1 L467.6,256.5 L471.2,259.9 L474.8,263.5 L478.3,267.1 L481.9,270.7 L485.4,274.4 L488.9,278 L492.5,281.6 L496.1,285.1 L499.8,288.6 L503.6,291.9 L507.5,295.2 L511.4,298.2 L515.5,301.2 L519.6,304 L523.8,306.9 L527.9,309.7 L532,312.6 L535.9,315.7 L539.7,319 L543.3,322.5 L546.8,326.1 L550.3,329.8 L553.8,333.5 L557.3,337.1 L561,340.6 L564.9,344 L568.8,347.2 L572.9,350.3 L577,353.3 L581,356.2 L585.1,359 L589,361.8 L593,364.6 L596.9,367.6 L600.8,370.6 L604.7,373.9 L608.6,377.2 L612.5,380.7 L616.4,384.1 L620.3,387.5 L624.3,390.7 L628.2,393.8 L632.2,396.8 L636.2,399.7 L640.1,402.6 L644,405.7 L647.8,408.8 L651.6,412.1 L655.4,415.5 L659.1,418.9 L662.8,422.4 L666.5,425.9 L670.3,429.3 L674.2,432.5 L678.1,435.7 L682.1,438.7 L686.1,441.7 L690.1,444.7 L694,447.8 L697.8,451 L701.5,454.4 L705.1,457.9 L708.7,461.5 L712.3,465.1 L715.8,468.7 L719.4,472.3 L723.1,475.8 L726.8,479.2 L730.6,482.5 L734.4,485.7 L738.4,488.8 L742.3,491.8 L746.4,494.8 L750.4,497.7 L754.5,500.6 L758.6,503.5 L762.7,506.4 L766.9,509.4 L771,512.3 L775.1,515.2 L779.2,518.1 L783.3,521.1 L787.5,524 L791.6,526.9 L795.7,529.8 L799.8,532.7 L804,535.6 L808.1,538.5 L812.2,541.3 L816.3,544.1 L820.4,547 L824.6,549.8 L828.7,552.6 L832.8,555.4 L836.9,558.3 L841,561.1 L845.1,564.1 L849.2,567.1 L853.4,570.1 L857.5,573.1 L861.6,576.1 L865.7,579 L869.9,581.7 L874.1,584.2" fill="none" stroke="#ff7f0e" stroke-width="3.5" stroke-linejoin="round" stroke-dasharray="12.95,5.6"/>
<path d="M69,77.5 L73.9,78.4 L79,79 L84.1,79.5 L89.1,80 L94.2,80.3 L99.2,80.6 L104.2,80.9 L109.3,81.1 L114.3,81.3 L119.3,81.5 L124.4,81.7 L129.4,81.9 L134.4,82.1 L139.4,82.3 L144.5,82.6 L149.5,82.9 L154.5,83.2 L159.5,83.5 L164.5,83.8 L169.5,84.2 L174.6,84.5 L179.6,84.9 L184.6,85.2 L189.6,85.6 L194.7,85.9 L199.7,86.3 L204.7,86.6 L209.8,86.9 L214.8,87.2 L219.9,87.5 L224.9,87.8 L230,88 L235,88.2 L240.1,88.4 L245.2,88.6 L250.3,88.9 L255.3,89.1 L260.4,89.4 L265.5,89.8 L270.5,90.2 L275.6,90.8 L280.6,91.4 L285.7,92.1 L290.7,92.8 L295.7,93.6 L300.7,94.5 L305.7,95.4 L310.7,96.4 L315.7,97.4 L320.6,98.4 L325.5,99.5 L330.4,100.6 L335.3,101.8 L340.1,103.1 L344.9,104.5 L349.7,105.9 L354.4,107.4 L359.2,109 L363.9,110.7 L368.5,112.5 L373.1,114.4 L377.7,116.4 L382.2,118.6 L386.7,120.9 L391.2,123.2 L395.7,125.7 L400.1,128.2 L404.5,130.8 L408.8,133.4 L413.2,136.1 L417.5,138.8 L421.9,141.4 L426.2,144.1 L430.6,146.7 L434.9,149.4 L439.2,152 L443.5,154.6 L447.8,157.3 L452,160 L456.3,162.7 L460.5,165.4 L464.7,168.2 L468.8,171 L472.9,173.9 L477,176.8 L481.1,179.8 L485.1,182.8 L489,185.8 L493,189 L496.9,192.1 L500.8,195.3 L504.7,198.5 L508.5,201.8 L512.4,205.1 L516.2,208.4 L520,211.8 L523.8,215.2 L527.5,218.6 L531.3,222 L535,225.4 L538.7,228.9 L542.5,232.4 L546.2,235.8 L549.9,239.3 L553.6,242.8 L557.2,246.2 L560.9,249.7 L564.5,253.1 L568.1,256.6 L571.6,260.1 L575.2,263.6 L578.7,267.2 L582.1,270.8 L585.6,274.5 L589,278.2 L592.4,281.9 L595.7,285.7 L599.1,289.5 L602.4,293.4 L605.6,297.2 L608.9,301.1 L612.1,305 L615.3,309 L618.5,312.9 L621.7,316.9 L624.8,320.8 L628,324.8 L631.1,328.8 L634.2,332.8 L637.2,336.8 L640.3,340.8 L643.4,344.8 L646.4,348.8 L649.5,352.8 L652.5,356.8 L655.6,360.8 L658.6,364.9 L661.7,368.9 L664.8,372.9 L667.8,376.9 L670.9,380.8 L674,384.8 L677.2,388.8 L680.3,392.7 L683.5,396.7 L686.7,400.6 L689.9,404.5 L693.2,408.3 L696.6,412.1 L700,415.8 L703.5,419.4 L707,422.9 L710.7,426.4 L714.4,429.8 L718.1,433.2 L721.9,436.5 L725.7,439.9 L729.4,443.3 L733.1,446.7 L736.8,450.1 L740.5,453.5 L744.2,457 L747.9,460.4 L751.6,463.8 L755.4,467.2 L759.1,470.5 L762.9,473.8 L766.8,477.1 L770.6,480.4 L774.5,483.6 L778.4,486.8 L782.3,490 L786.2,493.2 L790.2,496.4 L794.1,499.6 L798,502.7 L801.9,505.9 L805.8,509.1 L809.7,512.3 L813.6,515.6 L817.4,518.8 L821.3,522.1 L825.2,525.3 L829,528.5 L832.9,531.8 L836.8,535 L840.8,538.2 L844.7,541.3 L848.7,544.5 L852.6,547.6 L856.4,550.9 L860.1,554.3 L863.5,557.9 L866.7,561.7 L869.6,565.8 L872.1,570.2 L874.1,575" fill="none" stroke="#2ca02c" stroke-width="3.5" stroke-linejoin="round" stroke-dasharray="22.4,5.6,3.5,5.6"/>
<path d="M69,78 L70.5,84 L69.7,93.9 L71.9,98.2 L76.1,99 L81,98.4 L86,97.7 L91,97.2 L95.9,96.6 L100.9,96.1 L105.8,95.6 L110.8,95.2 L115.8,94.8 L120.7,94.4 L125.7,94.1 L130.7,93.9 L135.7,93.7 L140.7,93.5 L145.7,93.4 L150.7,93.3 L155.7,93.2 L160.7,93.2 L165.8,93.2 L170.8,93.3 L175.9,93.4 L180.9,93.5 L185.9,93.7 L191,93.9 L196.1,94.1 L201.1,94.3 L206.2,94.6 L211.2,94.9 L216.3,95.2 L221.3,95.5 L226.4,95.9 L231.5,96.3 L236.5,96.6 L241.6,97.1 L246.6,97.5 L251.7,97.9 L256.7,98.4 L261.8,98.8 L266.8,99.3 L271.8,99.8 L276.8,100.2 L281.8,100.7 L286.9,101.3 L291.9,101.8 L296.8,102.3 L301.8,102.9 L306.8,103.6 L311.8,104.2 L316.7,104.9 L321.7,105.7 L326.6,106.5 L331.5,107.3 L336.4,108.2 L341.3,109.2 L346.2,110.3 L351.1,111.4 L355.9,112.5 L360.7,113.8 L365.6,115.1 L370.4,116.5 L375.1,118 L379.9,119.5 L384.7,121.1 L389.4,122.8 L394.1,124.5 L398.8,126.3 L403.5,128.2 L408.2,130.1 L412.8,132.1 L417.4,134.1 L422,136.2 L426.6,138.3 L431.2,140.5 L435.7,142.7 L440.2,145 L444.7,147.3 L449.2,149.7 L453.7,152.1 L458.1,154.5 L462.5,157 L466.9,159.5 L471.2,162.1 L475.6,164.7 L479.9,167.3 L484.2,170 L488.4,172.7 L492.7,175.4 L496.9,178.2 L501,181 L505.2,183.8 L509.3,186.7 L513.4,189.6 L517.4,192.6 L521.5,195.6 L525.5,198.6 L529.4,201.7 L533.4,204.8 L537.2,207.9 L541.1,211.1 L544.9,214.3 L548.7,217.6 L552.5,220.9 L556.2,224.3 L559.9,227.7 L563.5,231.1 L567.1,234.6 L570.7,238.1 L574.2,241.7 L577.8,245.3 L581.2,248.9 L584.7,252.6 L588.1,256.3 L591.4,260 L594.8,263.8 L598.1,267.6 L601.3,271.4 L604.6,275.2 L607.8,279.1 L611,283 L614.1,287 L617.2,291 L620.3,294.9 L623.3,299 L626.3,303 L629.3,307.1 L632.3,311.1 L635.2,315.3 L638.1,319.4 L641,323.5 L643.8,327.7 L646.6,331.9 L649.4,336.1 L652.1,340.3 L654.9,344.5 L657.6,348.7 L660.3,353 L663,357.2 L665.7,361.5 L668.4,365.7 L671,370 L673.7,374.3 L676.4,378.5 L679,382.8 L681.7,387 L684.4,391.2 L687.1,395.5 L689.9,399.7 L692.6,403.9 L695.4,408.1 L698.1,412.3 L701,416.4 L703.8,420.5 L706.7,424.7 L709.6,428.7 L712.5,432.8 L715.5,436.8 L718.6,440.8 L721.6,444.8 L724.8,448.8 L727.9,452.7 L731.2,456.5 L734.5,460.4 L737.8,464.2 L741.2,467.9 L744.6,471.6 L748.1,475.3 L751.6,478.9 L755.2,482.4 L758.8,485.9 L762.5,489.4 L766.2,492.8 L770,496.1 L773.8,499.4 L777.7,502.6 L781.6,505.8 L785.5,508.9 L789.5,511.9 L793.5,515 L797.5,518 L801.5,521 L805.6,524 L809.6,527 L813.6,530 L817.6,533.1 L821.6,536.1 L825.5,539.3 L829.4,542.4 L833.3,545.6 L837.1,548.9 L840.9,552.2 L844.7,555.6 L848.4,558.9 L852.1,562.4 L855.8,565.8 L859.5,569.3 L863.1,572.7 L866.7,576.2 L870.4,579.6 L874.1,583" fill="none" stroke="#9467bd" stroke-width="3.5" stroke-linejoin="round" stroke-dasharray="3.5,5.78"/>
<path d="M69,78 L71.3,82.6 L72.3,88.6 L72.8,95.1 L73,101.9 L73.1,108.6 L73.2,114.9 L73.4,120.3 L74,124.5 L75,127.2 L76.8,128.1 L79.3,126.8 L82.5,123.8 L86.3,120.1 L90.5,116.3 L95,113.2 L99.7,110.8 L104.5,108.9 L109.4,107.5 L114.4,106.6 L119.4,106 L124.3,105.6 L129.3,105.4 L134.3,105.4 L139.3,105.5 L144.3,105.7 L149.3,106.1 L154.3,106.6 L159.3,107.2 L164.3,107.8 L169.3,108.5 L174.3,109.2 L179.3,110 L184.3,110.8 L189.3,111.7 L194.2,112.5 L199.2,113.4 L204.2,114.3 L209.2,115.1 L214.2,115.9 L219.2,116.7 L224.2,117.5 L229.1,118.2 L234.1,118.9 L239.1,119.4 L244.1,120 L249,120.5 L254,121.1 L258.9,121.7 L263.9,122.3 L268.8,123.2 L273.8,124.1 L278.7,125.2 L283.6,126.4 L288.6,127.7 L293.5,129 L298.4,130.4 L303.3,131.8 L308.2,133.2 L313.1,134.6 L317.9,135.9 L322.8,137.2 L327.6,138.5 L332.5,139.8 L337.3,141 L342.1,142.3 L346.9,143.7 L351.7,145 L356.5,146.5 L361.3,147.9 L366,149.5 L370.8,151.1 L375.5,152.9 L380.2,154.7 L384.9,156.5 L389.6,158.4 L394.3,160.4 L399,162.3 L403.7,164.3 L408.4,166.2 L413,168.1 L417.7,170 L422.4,171.9 L427.2,173.7 L431.9,175.5 L436.6,177.3 L441.3,179 L446.1,180.7 L450.8,182.5 L455.4,184.4 L460,186.4 L464.5,188.5 L469,190.8 L473.3,193.3 L477.6,195.9 L481.9,198.5 L486.1,201.3 L490.3,204.1 L494.5,206.9 L498.7,209.7 L502.9,212.5 L507.1,215.3 L511.3,218.1 L515.6,220.9 L519.7,223.7 L523.9,226.6 L528.1,229.4 L532.3,232.3 L536.4,235.1 L540.5,238 L544.6,241 L548.7,243.9 L552.7,246.9 L556.7,250 L560.7,253 L564.6,256.2 L568.5,259.4 L572.3,262.6 L576.1,265.9 L579.9,269.3 L583.6,272.7 L587.2,276.1 L590.9,279.6 L594.5,283.1 L598.1,286.6 L601.7,290.2 L605.3,293.7 L608.9,297.3 L612.6,300.8 L616.2,304.3 L619.8,307.8 L623.3,311.4 L626.8,315 L630.1,318.7 L633.3,322.6 L636.4,326.5 L639.4,330.5 L642.3,334.5 L645.2,338.5 L648.2,342.6 L651.2,346.7 L654.2,350.8 L657.3,354.8 L660.5,358.9 L663.6,362.9 L666.8,366.9 L670,370.9 L673.1,374.9 L676.2,378.9 L679.2,382.9 L682.2,386.9 L685.1,390.9 L688,394.9 L690.9,398.8 L693.8,402.9 L696.8,406.9 L699.8,410.9 L702.8,414.9 L705.9,419 L709,423 L712,427.1 L715.1,431.2 L718.1,435.3 L721.1,439.5 L724,443.6 L726.9,447.8 L729.8,451.9 L732.7,456 L735.7,460 L738.7,464 L741.8,467.9 L745,471.7 L748.4,475.4 L751.8,479 L755.4,482.5 L759.1,485.9 L762.9,489.2 L766.8,492.5 L770.7,495.7 L774.7,498.8 L778.7,501.8 L782.8,504.9 L786.9,507.9 L791,510.8 L795.2,513.8 L799.3,516.8 L803.4,519.7 L807.4,522.7 L811.4,525.7 L815.4,528.7 L819.3,531.8 L823.2,534.8 L827.1,538 L830.9,541.2 L834.8,544.4 L838.7,547.7 L842.6,551 L846.5,554.4 L850.2,557.8 L853.8,561.3 L857.3,564.9 L860.7,568.6 L864,572.3 L867.3,576 L870.6,579.8 L874.1,583.5" fill="none" stroke="#8c564b" stroke-width="3.5" stroke-linejoin="round"/>
<path d="M69,76.5 L74,76.5 L79.1,76.6 L84.1,76.6 L89.1,76.7 L94.2,76.8 L99.2,76.9 L104.2,77 L109.3,77.2 L114.3,77.3 L119.3,77.5 L124.4,77.7 L129.4,77.9 L134.4,78.1 L139.4,78.3 L144.4,78.5 L149.5,78.7 L154.5,79 L159.5,79.2 L164.5,79.5 L169.5,79.8 L174.5,80 L179.6,80.3 L184.6,80.6 L189.6,80.9 L194.6,81.1 L199.6,81.4 L204.7,81.7 L209.7,82 L214.7,82.3 L219.7,82.6 L224.7,82.9 L229.8,83.2 L234.8,83.4 L239.8,83.7 L244.9,84 L249.9,84.3 L254.9,84.6 L260,84.9 L265,85.3 L270,85.6 L275,85.9 L280.1,86.3 L285.1,86.6 L290.1,87 L295.1,87.4 L300.2,87.8 L305.2,88.3 L310.2,88.7 L315.2,89.2 L320.2,89.7 L325.2,90.2 L330.2,90.7 L335.2,91.3 L340.2,91.9 L345.2,92.5 L350.2,93.1 L355.2,93.8 L360.1,94.5 L365.1,95.3 L370.1,96 L375,96.8 L380,97.7 L384.9,98.6 L389.9,99.5 L394.8,100.4 L399.7,101.4 L404.6,102.5 L409.5,103.6 L414.4,104.7 L419.3,105.9 L424.2,107.1 L429.1,108.4 L433.9,109.7 L438.8,111.1 L443.6,112.6 L448.4,114.1 L453.2,115.7 L457.9,117.3 L462.6,119 L467.3,120.8 L472,122.7 L476.7,124.7 L481.3,126.7 L485.8,128.8 L490.4,131 L494.9,133.3 L499.3,135.6 L503.7,138 L508.1,140.5 L512.4,143.1 L516.7,145.8 L520.9,148.5 L525.1,151.3 L529.2,154.1 L533.3,157 L537.4,159.9 L541.5,162.9 L545.5,165.9 L549.5,168.9 L553.5,172 L557.5,175.1 L561.5,178.2 L565.4,181.3 L569.3,184.5 L573.2,187.7 L577,191 L580.7,194.3 L584.4,197.7 L588,201.2 L591.5,204.8 L595,208.5 L598.4,212.2 L601.7,216 L605,219.8 L608.3,223.5 L611.7,227.3 L615,231 L618.4,234.7 L621.8,238.4 L625.2,242 L628.6,245.6 L632,249.2 L635.4,252.9 L638.8,256.7 L642.1,260.5 L645.4,264.4 L648.6,268.3 L651.8,272.3 L655,276.3 L658.1,280.4 L661.2,284.4 L664.2,288.5 L667.1,292.7 L670,296.8 L672.9,300.9 L675.7,305.1 L678.4,309.2 L681.2,313.3 L683.9,317.5 L686.6,321.6 L689.2,325.8 L691.9,330 L694.6,334.1 L697.3,338.3 L700,342.5 L702.7,346.7 L705.5,350.8 L708.2,355 L711.1,359.2 L713.9,363.4 L716.8,367.6 L719.6,371.8 L722.5,376 L725.4,380.2 L728.2,384.4 L731.1,388.6 L733.9,392.8 L736.7,397 L739.5,401.2 L742.3,405.4 L745.1,409.6 L747.9,413.8 L750.6,418 L753.4,422.2 L756.2,426.4 L758.9,430.6 L761.7,434.8 L764.5,439 L767.3,443.2 L770.1,447.3 L772.9,451.5 L775.7,455.6 L778.5,459.8 L781.4,463.9 L784.3,468 L787.2,472.1 L790.1,476.2 L793.1,480.2 L796,484.2 L799.1,488.3 L802.1,492.2 L805.2,496.2 L808.3,500.1 L811.5,504 L814.7,507.9 L817.9,511.7 L821.2,515.5 L824.6,519.3 L828,523 L831.4,526.7 L834.9,530.3 L838.5,534 L842,537.6 L845.5,541.2 L849,544.9 L852.4,548.6 L855.7,552.4 L858.9,556.3 L861.9,560.2 L864.8,564.2 L867.5,568.4 L870,572.7 L872.3,577.2 L874.1,582" fill="none" stroke="#d62728" stroke-width="4.86" stroke-linejoin="round"/>
</g>
<rect x="69" y="49.8" width="805.1" height="566.7" fill="none" stroke="#000" stroke-width="1.8"/>
<path d="M69,616.5v4.7M69,616.5h-4.7M230,616.5v4.7M69,508.6h-4.7M391,616.5v4.7M69,400.6h-4.7M552.1,616.5v4.7M69,292.7h-4.7M713.1,616.5v4.7M69,184.7h-4.7M874.1,616.5v4.7M69,76.8h-4.7" stroke="#000" stroke-width="1.3" fill="none"/>
<text x="69" y="642.7" text-anchor="middle" class="tk">0.0</text>
<text x="59" y="624.6" text-anchor="end" class="tk">0.0</text>
<text x="230" y="642.7" text-anchor="middle" class="tk">0.2</text>
<text x="59" y="516.7" text-anchor="end" class="tk">0.2</text>
<text x="391" y="642.7" text-anchor="middle" class="tk">0.4</text>
<text x="59" y="408.7" text-anchor="end" class="tk">0.4</text>
<text x="552.1" y="642.7" text-anchor="middle" class="tk">0.6</text>
<text x="59" y="300.8" text-anchor="end" class="tk">0.6</text>
<text x="713.1" y="642.7" text-anchor="middle" class="tk">0.8</text>
<text x="59" y="192.8" text-anchor="end" class="tk">0.8</text>
<text x="874.1" y="642.7" text-anchor="middle" class="tk">1.0</text>
<text x="59" y="84.9" text-anchor="end" class="tk">1.0</text>
<rect x="979.2" y="49.8" width="804.9" height="566.7" fill="#f9f9f9"/>
<clipPath id="cr"><rect x="979.2" y="49.8" width="804.9" height="566.7"/></clipPath>
<path d="M979.2,49.8V616.5M979.2,616.5H1784.1M1140.2,49.8V616.5M979.2,508.6H1784.1M1301.2,49.8V616.5M979.2,400.6H1784.1M1462.1,49.8V616.5M979.2,292.7H1784.1M1623.1,49.8V616.5M979.2,184.7H1784.1M1784.1,49.8V616.5M979.2,76.8H1784.1" stroke="#f0f0f0" stroke-width="1.4" fill="none"/>
<g clip-path="url(#cr)">
<path d="M979.5,616 L979.1,610.6 L979.7,605.8 L980.3,600.9 L980.8,596.1 L981.3,591.2 L981.7,586.3 L982.1,581.4 L982.4,576.5 L982.7,571.6 L983,566.7 L983.2,561.7 L983.4,556.7 L983.6,551.8 L983.7,546.8 L983.9,541.8 L984,536.8 L984,531.8 L984.1,526.7 L984.1,521.7 L984.2,516.6 L984.2,511.6 L984.2,506.5 L984.2,501.5 L984.1,496.4 L984.1,491.3 L984.1,486.2 L984,481.2 L984,476.1 L984,471 L983.9,465.9 L983.9,460.8 L983.9,455.7 L983.9,450.6 L983.9,445.5 L983.9,440.4 L983.9,435.3 L983.9,430.2 L984,425.1 L984.1,420 L984.2,414.9 L984.3,409.8 L984.4,404.7 L984.6,399.6 L984.8,394.5 L985,389.5 L985.3,384.4 L985.6,379.3 L986,374.3 L986.3,369.2 L986.8,364.2 L987.2,359.1 L987.7,354.1 L988.3,349.1 L988.9,344.1 L989.5,339.1 L990.2,334.1 L991,329.1 L991.8,324.2 L992.7,319.2 L993.6,314.3 L994.6,309.4 L995.7,304.5 L996.8,299.6 L998,294.7 L999.2,289.8 L1000.6,285 L1002,280.1 L1003.5,275.3 L1005,270.5 L1006.6,265.7 L1008.4,261 L1010.2,256.2 L1012,251.5 L1014,246.9 L1016.1,242.2 L1018.3,237.6 L1020.5,233.1 L1022.9,228.7 L1025.4,224.4 L1028,220.1 L1030.8,216 L1033.7,212 L1036.7,208.1 L1039.8,204.4 L1043.1,200.9 L1046.6,197.5 L1050.2,194.2 L1053.9,191.1 L1057.7,188.1 L1061.6,185.3 L1065.7,182.6 L1069.8,179.9 L1074,177.4 L1078.2,174.9 L1082.6,172.6 L1086.9,170.2 L1091.3,168 L1095.7,165.7 L1100.2,163.6 L1104.7,161.4 L1109.2,159.3 L1113.7,157.3 L1118.2,155.3 L1122.8,153.3 L1127.4,151.3 L1132,149.4 L1136.6,147.6 L1141.3,145.8 L1145.9,144 L1150.6,142.2 L1155.3,140.5 L1160.1,138.9 L1164.8,137.2 L1169.6,135.6 L1174.4,134.1 L1179.2,132.6 L1184,131.1 L1188.8,129.6 L1193.7,128.2 L1198.5,126.8 L1203.4,125.4 L1208.3,124.1 L1213.2,122.8 L1218.1,121.6 L1223,120.3 L1228,119.1 L1232.9,118 L1237.9,116.8 L1242.8,115.7 L1247.8,114.6 L1252.8,113.6 L1257.8,112.6 L1262.8,111.6 L1267.8,110.6 L1272.8,109.7 L1277.8,108.8 L1282.8,107.9 L1287.9,107 L1292.9,106.2 L1297.9,105.4 L1303,104.6 L1308,103.8 L1313,103.1 L1318.1,102.4 L1323.1,101.7 L1328.2,101 L1333.2,100.3 L1338.3,99.7 L1343.3,99.1 L1348.4,98.5 L1353.4,97.9 L1358.5,97.4 L1363.5,96.9 L1368.5,96.4 L1373.6,95.9 L1378.6,95.4 L1383.6,94.9 L1388.6,94.5 L1393.7,94.1 L1398.7,93.7 L1403.7,93.3 L1408.7,92.9 L1413.7,92.5 L1418.7,92.2 L1423.7,91.9 L1428.7,91.5 L1433.7,91.2 L1438.7,90.9 L1443.7,90.7 L1448.7,90.4 L1453.7,90.1 L1458.7,89.9 L1463.7,89.7 L1468.6,89.4 L1473.6,89.2 L1478.6,89 L1483.6,88.8 L1488.6,88.6 L1493.6,88.4 L1498.5,88.3 L1503.5,88.1 L1508.5,87.9 L1513.5,87.8 L1518.5,87.6 L1523.4,87.5 L1528.4,87.3 L1533.4,87.2 L1538.4,87.1 L1543.3,86.9 L1548.3,86.8 L1553.3,86.7 L1558.3,86.6 L1563.3,86.5 L1568.2,86.4 L1573.2,86.2 L1578.2,86.1 L1583.2,86 L1588.2,85.9 L1593.2,85.8 L1598.1,85.7 L1603.1,85.6 L1608.1,85.4 L1613.1,85.3 L1618.1,85.2 L1623.1,85.1 L1628.1,84.9 L1633.1,84.8 L1638.1,84.7 L1643.1,84.5 L1648.1,84.4 L1653.1,84.2 L1658.1,84 L1663.2,83.9 L1668.2,83.7 L1673.2,83.5 L1678.2,83.3 L1683.3,83.1 L1688.3,82.9 L1693.3,82.7 L1698.4,82.5 L1703.4,82.2 L1708.5,82 L1713.5,81.7 L1718.6,81.5 L1723.6,81.2 L1728.7,80.9 L1733.7,80.6 L1738.8,80.2 L1743.9,79.9 L1749,79.6 L1754.1,79.2 L1759.1,78.8 L1764.2,78.4 L1769.3,78 L1774.5,77.6 L1779.6,77.1 L1784.1,76.3 L1784.1,77.3 L1779.6,78.1 L1774.5,78.6 L1769.3,79 L1764.2,79.4 L1759.1,79.8 L1754.1,80.2 L1749,80.6 L1743.9,80.9 L1738.8,81.2 L1733.7,81.6 L1728.7,81.9 L1723.6,82.2 L1718.6,82.5 L1713.5,82.7 L1708.5,83 L1703.4,83.2 L1698.4,83.5 L1693.3,83.7 L1688.3,83.9 L1683.3,84.1 L1678.2,84.3 L1673.2,84.5 L1668.2,84.7 L1663.2,84.9 L1658.1,85 L1653.1,85.2 L1648.1,85.4 L1643.1,85.5 L1638.1,85.7 L1633.1,85.8 L1628.1,85.9 L1623.1,86.1 L1618.1,86.2 L1613.1,86.3 L1608.1,86.4 L1603.1,86.6 L1598.1,86.7 L1593.2,86.8 L1588.2,86.9 L1583.2,87 L1578.2,87.1 L1573.2,87.2 L1568.2,87.4 L1563.3,87.5 L1558.3,87.6 L1553.3,87.7 L1548.3,87.8 L1543.3,87.9 L1538.4,88.1 L1533.4,88.2 L1528.4,88.3 L1523.4,88.5 L1518.5,88.6 L1513.5,88.8 L1508.5,88.9 L1503.5,89.1 L1498.5,89.3 L1493.6,89.4 L1488.6,89.6 L1483.6,89.8 L1478.6,90 L1473.6,90.2 L1468.6,90.4 L1463.7,90.7 L1458.7,90.9 L1453.7,91.1 L1448.7,91.4 L1443.7,91.7 L1438.7,91.9 L1433.7,92.2 L1428.7,92.5 L1423.7,92.9 L1418.7,93.2 L1413.7,93.5 L1408.7,93.9 L1403.7,94.3 L1398.7,94.7 L1393.7,95.1 L1388.6,95.5 L1383.6,95.9 L1378.6,96.4 L1373.6,96.9 L1368.5,97.4 L1363.5,97.9 L1358.5,98.4 L1353.4,98.9 L1348.4,99.5 L1343.3,100.1 L1338.3,100.7 L1333.2,101.3 L1328.2,102 L1323.1,102.7 L1318.1,103.4 L1313,104.1 L1308,104.8 L1303,105.6 L1297.9,106.4 L1292.9,107.2 L1287.9,108 L1282.8,108.9 L1277.8,109.8 L1272.8,110.7 L1267.8,111.6 L1262.8,112.6 L1257.8,113.6 L1252.8,114.6 L1247.8,115.6 L1242.8,116.7 L1237.9,117.8 L1232.9,119 L1228,120.1 L1223,121.3 L1218.1,122.6 L1213.2,123.8 L1208.3,125.1 L1203.4,126.4 L1198.5,127.8 L1193.7,129.2 L1188.8,130.6 L1184,132.1 L1179.2,133.6 L1174.4,135.1 L1169.6,136.6 L1164.8,138.2 L1160.1,139.9 L1155.3,141.5 L1150.6,143.2 L1145.9,145 L1141.3,146.8 L1136.6,148.6 L1132,150.4 L1127.4,152.3 L1122.8,154.3 L1118.2,156.3 L1113.7,158.3 L1109.2,160.3 L1104.7,162.4 L1100.2,164.6 L1095.7,166.7 L1091.3,169 L1086.9,171.2 L1082.6,173.6 L1078.2,175.9 L1074,178.4 L1069.8,180.9 L1065.7,183.6 L1061.6,186.3 L1057.7,189.1 L1053.9,192.1 L1050.2,195.2 L1046.6,198.5 L1043.1,201.9 L1039.8,205.4 L1036.7,209.1 L1033.7,213 L1030.8,217 L1028,221.1 L1025.4,225.4 L1022.9,229.7 L1020.5,234.1 L1018.3,238.6 L1016.1,243.2 L1014,247.9 L1012,252.5 L1010.2,257.2 L1008.4,262 L1006.6,266.7 L1005,271.5 L1003.5,276.3 L1002,281.1 L1000.6,286 L999.2,290.8 L998,295.7 L996.8,300.6 L995.7,305.5 L994.6,310.4 L993.6,315.3 L992.7,320.2 L991.8,325.2 L991,330.1 L990.2,335.1 L989.5,340.1 L988.9,345.1 L988.3,350.1 L987.7,355.1 L987.2,360.1 L986.8,365.2 L986.3,370.2 L986,375.3 L985.6,380.3 L985.3,385.4 L985,390.5 L984.8,395.5 L984.6,400.6 L984.4,405.7 L984.3,410.8 L984.2,415.9 L984.1,421 L984,426.1 L983.9,431.2 L983.9,436.3 L983.9,441.4 L983.9,446.5 L983.9,451.6 L983.9,456.7 L983.9,461.8 L983.9,466.9 L984,472 L984,477.1 L984,482.2 L984.1,487.2 L984.1,492.3 L984.1,497.4 L984.2,502.5 L984.2,507.5 L984.2,512.6 L984.2,517.6 L984.1,522.7 L984.1,527.7 L984,532.8 L984,537.8 L983.9,542.8 L983.7,547.8 L983.6,552.8 L983.4,557.7 L983.2,562.7 L983,567.7 L982.7,572.6 L982.4,577.5 L982.1,582.4 L981.7,587.3 L981.3,592.2 L980.8,597.1 L980.3,601.9 L979.7,606.8 L979.1,611.6 L979.5,617 Z" fill="#1f77b4" fill-opacity="0.15" stroke="none"/>
<path d="M979.5,615.5 L979.4,610.3 L979.9,605.4 L980.4,600.4 L980.8,595.5 L981.2,590.5 L981.6,585.5 L981.9,580.5 L982.2,575.5 L982.5,570.6 L982.7,565.6 L982.9,560.6 L983.1,555.5 L983.3,550.5 L983.4,545.5 L983.5,540.5 L983.6,535.5 L983.7,530.5 L983.8,525.4 L983.8,520.4 L983.9,515.4 L983.9,510.3 L983.9,505.3 L984,500.2 L984,495.2 L984,490.2 L984,485.1 L984,480.1 L984.1,475 L984.1,470 L984.2,464.9 L984.2,459.9 L984.3,454.8 L984.4,449.8 L984.5,444.7 L984.6,439.7 L984.8,434.6 L984.9,429.6 L985.1,424.6 L985.3,419.5 L985.6,414.5 L985.9,409.5 L986.2,404.4 L986.5,399.4 L986.9,394.4 L987.3,389.3 L987.8,384.3 L988.3,379.3 L988.9,374.3 L989.5,369.3 L990.1,364.3 L990.8,359.3 L991.6,354.3 L992.4,349.3 L993.3,344.3 L994.2,339.4 L995.2,334.4 L996.3,329.4 L997.4,324.5 L998.6,319.5 L999.8,314.6 L1001.1,309.7 L1002.5,304.8 L1004,299.9 L1005.5,295.1 L1007.2,290.2 L1008.9,285.5 L1010.7,280.7 L1012.5,276 L1014.5,271.4 L1016.6,266.8 L1018.7,262.3 L1020.9,257.8 L1023.3,253.4 L1025.7,249 L1028.2,244.8 L1030.8,240.5 L1033.6,236.4 L1036.4,232.3 L1039.3,228.3 L1042.3,224.4 L1045.4,220.6 L1048.6,216.9 L1052,213.2 L1055.4,209.6 L1058.9,206.1 L1062.5,202.7 L1066.3,199.4 L1070.1,196.2 L1074,193 L1077.9,190 L1081.9,187 L1086,184.1 L1090.1,181.3 L1094.3,178.5 L1098.5,175.8 L1102.7,173.2 L1107,170.6 L1111.3,168.1 L1115.6,165.7 L1120,163.3 L1124.4,161 L1128.9,158.8 L1133.3,156.6 L1137.8,154.5 L1142.3,152.4 L1146.9,150.4 L1151.5,148.5 L1156.1,146.6 L1160.7,144.7 L1165.3,142.9 L1170,141.2 L1174.7,139.5 L1179.5,137.9 L1184.2,136.3 L1189,134.8 L1193.8,133.3 L1198.6,131.8 L1203.4,130.4 L1208.2,129.1 L1213.1,127.7 L1218,126.5 L1222.9,125.2 L1227.8,124 L1232.7,122.9 L1237.7,121.8 L1242.6,120.7 L1247.6,119.6 L1252.6,118.6 L1257.6,117.6 L1262.6,116.7 L1267.6,115.7 L1272.6,114.8 L1277.7,114 L1282.7,113.1 L1287.7,112.3 L1292.8,111.5 L1297.8,110.8 L1302.9,110 L1308,109.3 L1313,108.6 L1318.1,107.9 L1323.2,107.2 L1328.2,106.6 L1333.3,105.9 L1338.4,105.3 L1343.4,104.7 L1348.5,104.1 L1353.6,103.5 L1358.6,103 L1363.7,102.4 L1368.7,101.8 L1373.8,101.3 L1378.8,100.8 L1383.8,100.2 L1388.9,99.7 L1393.9,99.2 L1398.9,98.7 L1403.9,98.2 L1408.9,97.7 L1414,97.2 L1419,96.7 L1424,96.2 L1429,95.8 L1434,95.3 L1438.9,94.9 L1443.9,94.4 L1448.9,94 L1453.9,93.6 L1458.9,93.2 L1463.9,92.7 L1468.8,92.3 L1473.8,91.9 L1478.8,91.5 L1483.8,91.1 L1488.7,90.8 L1493.7,90.4 L1498.7,90 L1503.6,89.7 L1508.6,89.3 L1513.6,89 L1518.5,88.6 L1523.5,88.3 L1528.4,87.9 L1533.4,87.6 L1538.4,87.3 L1543.3,87 L1548.3,86.7 L1553.3,86.4 L1558.2,86.1 L1563.2,85.8 L1568.1,85.5 L1573.1,85.2 L1578.1,85 L1583,84.7 L1588,84.4 L1593,84.2 L1598,83.9 L1602.9,83.7 L1607.9,83.4 L1612.9,83.2 L1617.9,83 L1622.9,82.8 L1627.9,82.5 L1632.9,82.3 L1637.9,82.1 L1642.9,81.9 L1647.9,81.7 L1652.9,81.5 L1657.9,81.3 L1662.9,81.1 L1667.9,80.9 L1672.9,80.8 L1678,80.6 L1683,80.4 L1688,80.3 L1693.1,80.1 L1698.1,79.9 L1703.2,79.8 L1708.2,79.6 L1713.3,79.5 L1718.3,79.3 L1723.4,79.2 L1728.5,79.1 L1733.6,78.9 L1738.7,78.8 L1743.8,78.7 L1748.9,78.6 L1754,78.5 L1759.1,78.3 L1764.2,78.2 L1769.4,78.1 L1774.5,78 L1779.7,77.9 L1784.1,75.8 L1784.1,77.8 L1779.7,79.9 L1774.5,80 L1769.4,80.1 L1764.2,80.2 L1759.1,80.3 L1754,80.5 L1748.9,80.6 L1743.8,80.7 L1738.7,80.8 L1733.6,80.9 L1728.5,81.1 L1723.4,81.2 L1718.3,81.3 L1713.3,81.5 L1708.2,81.6 L1703.2,81.8 L1698.1,81.9 L1693.1,82.1 L1688,82.3 L1683,82.4 L1678,82.6 L1672.9,82.8 L1667.9,82.9 L1662.9,83.1 L1657.9,83.3 L1652.9,83.5 L1647.9,83.7 L1642.9,83.9 L1637.9,84.1 L1632.9,84.3 L1627.9,84.5 L1622.9,84.8 L1617.9,85 L1612.9,85.2 L1607.9,85.4 L1602.9,85.7 L1598,85.9 L1593,86.2 L1588,86.4 L1583,86.7 L1578.1,87 L1573.1,87.2 L1568.1,87.5 L1563.2,87.8 L1558.2,88.1 L1553.3,88.4 L1548.3,88.7 L1543.3,89 L1538.4,89.3 L1533.4,89.6 L1528.4,89.9 L1523.5,90.3 L1518.5,90.6 L1513.6,91 L1508.6,91.3 L1503.6,91.7 L1498.7,92 L1493.7,92.4 L1488.7,92.8 L1483.8,93.1 L1478.8,93.5 L1473.8,93.9 L1468.8,94.3 L1463.9,94.7 L1458.9,95.2 L1453.9,95.6 L1448.9,96 L1443.9,96.4 L1438.9,96.9 L1434,97.3 L1429,97.8 L1424,98.2 L1419,98.7 L1414,99.2 L1408.9,99.7 L1403.9,100.2 L1398.9,100.7 L1393.9,101.2 L1388.9,101.7 L1383.8,102.2 L1378.8,102.8 L1373.8,103.3 L1368.7,103.8 L1363.7,104.4 L1358.6,105 L1353.6,105.5 L1348.5,106.1 L1343.4,106.7 L1338.4,107.3 L1333.3,107.9 L1328.2,108.6 L1323.2,109.2 L1318.1,109.9 L1313,110.6 L1308,111.3 L1302.9,112 L1297.8,112.8 L1292.8,113.5 L1287.7,114.3 L1282.7,115.1 L1277.7,116 L1272.6,116.8 L1267.6,117.7 L1262.6,118.7 L1257.6,119.6 L1252.6,120.6 L1247.6,121.6 L1242.6,122.7 L1237.7,123.8 L1232.7,124.9 L1227.8,126 L1222.9,127.2 L1218,128.5 L1213.1,129.7 L1208.2,131.1 L1203.4,132.4 L1198.6,133.8 L1193.8,135.3 L1189,136.8 L1184.2,138.3 L1179.5,139.9 L1174.7,141.5 L1170,143.2 L1165.3,144.9 L1160.7,146.7 L1156.1,148.6 L1151.5,150.5 L1146.9,152.4 L1142.3,154.4 L1137.8,156.5 L1133.3,158.6 L1128.9,160.8 L1124.4,163 L1120,165.3 L1115.6,167.7 L1111.3,170.1 L1107,172.6 L1102.7,175.2 L1098.5,177.8 L1094.3,180.5 L1090.1,183.3 L1086,186.1 L1081.9,189 L1077.9,192 L1074,195 L1070.1,198.2 L1066.3,201.4 L1062.5,204.7 L1058.9,208.1 L1055.4,211.6 L1052,215.2 L1048.6,218.9 L1045.4,222.6 L1042.3,226.4 L1039.3,230.3 L1036.4,234.3 L1033.6,238.4 L1030.8,242.5 L1028.2,246.8 L1025.7,251 L1023.3,255.4 L1020.9,259.8 L1018.7,264.3 L1016.6,268.8 L1014.5,273.4 L1012.5,278 L1010.7,282.7 L1008.9,287.5 L1007.2,292.2 L1005.5,297.1 L1004,301.9 L1002.5,306.8 L1001.1,311.7 L999.8,316.6 L998.6,321.5 L997.4,326.5 L996.3,331.4 L995.2,336.4 L994.2,341.4 L993.3,346.3 L992.4,351.3 L991.6,356.3 L990.8,361.3 L990.1,366.3 L989.5,371.3 L988.9,376.3 L988.3,381.3 L987.8,386.3 L987.3,391.3 L986.9,396.4 L986.5,401.4 L986.2,406.4 L985.9,411.5 L985.6,416.5 L985.3,421.5 L985.1,426.6 L984.9,431.6 L984.8,436.6 L984.6,441.7 L984.5,446.7 L984.4,451.8 L984.3,456.8 L984.2,461.9 L984.2,466.9 L984.1,472 L984.1,477 L984,482.1 L984,487.1 L984,492.2 L984,497.2 L984,502.2 L983.9,507.3 L983.9,512.3 L983.9,517.4 L983.8,522.4 L983.8,527.4 L983.7,532.5 L983.6,537.5 L983.5,542.5 L983.4,547.5 L983.3,552.5 L983.1,557.5 L982.9,562.6 L982.7,567.6 L982.5,572.6 L982.2,577.5 L981.9,582.5 L981.6,587.5 L981.2,592.5 L980.8,597.5 L980.4,602.4 L979.9,607.4 L979.4,612.3 L979.5,617.5 Z" fill="#ff7f0e" fill-opacity="0.15" stroke="none"/>
<path d="M979.5,615.5 L979.4,609.9 L979.7,605.2 L980.1,600.4 L980.4,595.6 L980.7,590.8 L980.9,585.9 L981.2,581.1 L981.4,576.2 L981.6,571.3 L981.8,566.4 L982,561.4 L982.1,556.5 L982.3,551.5 L982.4,546.6 L982.5,541.6 L982.7,536.6 L982.7,531.6 L982.8,526.5 L982.9,521.5 L983,516.4 L983.1,511.4 L983.1,506.3 L983.2,501.2 L983.2,496.2 L983.3,491.1 L983.3,486 L983.3,480.9 L983.4,475.7 L983.4,470.6 L983.5,465.5 L983.5,460.4 L983.6,455.2 L983.6,450.1 L983.7,445 L983.7,439.8 L983.8,434.7 L983.9,429.5 L984,424.4 L984.1,419.3 L984.2,414.1 L984.3,409 L984.4,403.8 L984.6,398.7 L984.7,393.6 L984.9,388.4 L985.1,383.3 L985.3,378.2 L985.6,373.1 L985.8,368 L986.1,362.8 L986.4,357.7 L986.7,352.7 L987,347.6 L987.4,342.5 L987.7,337.4 L988.1,332.4 L988.6,327.3 L989,322.3 L989.5,317.3 L990.1,312.3 L990.7,307.3 L991.3,302.3 L992.1,297.4 L992.9,292.5 L993.8,287.6 L994.7,282.7 L995.8,277.9 L997,273.1 L998.4,268.4 L999.8,263.6 L1001.4,259 L1003.1,254.4 L1005,249.8 L1007,245.3 L1009.2,240.8 L1011.4,236.4 L1013.9,232.1 L1016.4,227.8 L1019,223.6 L1021.8,219.4 L1024.7,215.3 L1027.7,211.3 L1030.8,207.3 L1034,203.5 L1037.2,199.7 L1040.6,195.9 L1044.1,192.3 L1047.6,188.7 L1051.3,185.2 L1054.9,181.9 L1058.7,178.6 L1062.6,175.4 L1066.5,172.2 L1070.4,169.2 L1074.4,166.2 L1078.5,163.3 L1082.6,160.4 L1086.8,157.7 L1091,155 L1095.2,152.4 L1099.5,149.9 L1103.8,147.4 L1108.2,145 L1112.6,142.7 L1117,140.4 L1121.5,138.2 L1126,136.1 L1130.5,134 L1135.1,132 L1139.7,130.1 L1144.3,128.2 L1149,126.4 L1153.7,124.6 L1158.4,122.9 L1163.2,121.2 L1168,119.6 L1172.8,118.1 L1177.6,116.6 L1182.4,115.1 L1187.3,113.7 L1192.2,112.3 L1197.1,111 L1202,109.7 L1206.9,108.5 L1211.9,107.3 L1216.8,106.1 L1221.8,105 L1226.8,103.9 L1231.8,102.9 L1236.8,101.9 L1241.8,100.9 L1246.8,99.9 L1251.8,99 L1256.9,98.1 L1261.9,97.3 L1267,96.4 L1272,95.6 L1277,94.9 L1282.1,94.1 L1287.1,93.4 L1292.2,92.6 L1297.2,91.9 L1302.2,91.3 L1307.3,90.6 L1312.3,89.9 L1317.3,89.3 L1322.3,88.7 L1327.3,88.1 L1332.4,87.6 L1337.4,87 L1342.4,86.5 L1347.4,86 L1352.4,85.5 L1357.4,85 L1362.4,84.5 L1367.4,84.1 L1372.4,83.6 L1377.4,83.2 L1382.4,82.8 L1387.4,82.4 L1392.4,82 L1397.4,81.7 L1402.4,81.3 L1407.4,81 L1412.4,80.7 L1417.4,80.3 L1422.4,80.1 L1427.4,79.8 L1432.4,79.5 L1437.3,79.2 L1442.3,79 L1447.3,78.8 L1452.3,78.6 L1457.3,78.3 L1462.3,78.1 L1467.3,78 L1472.3,77.8 L1477.2,77.6 L1482.2,77.4 L1487.2,77.3 L1492.2,77.2 L1497.2,77 L1502.2,76.9 L1507.2,76.8 L1512.1,76.7 L1517.1,76.6 L1522.1,76.5 L1527.1,76.4 L1532.1,76.3 L1537.1,76.3 L1542.1,76.2 L1547.1,76.2 L1552.1,76.1 L1557.1,76.1 L1562.1,76 L1567.1,76 L1572.1,76 L1577.1,75.9 L1582.1,75.9 L1587.1,75.9 L1592.1,75.9 L1597.1,75.9 L1602.1,75.9 L1607.1,75.9 L1612.1,75.9 L1617.2,75.9 L1622.2,75.9 L1627.2,75.9 L1632.2,75.9 L1637.2,75.9 L1642.3,76 L1647.3,76 L1652.3,76 L1657.4,76 L1662.4,76 L1667.5,76 L1672.5,76.1 L1677.5,76.1 L1682.6,76.1 L1687.7,76.1 L1692.7,76.1 L1697.8,76.1 L1702.8,76.1 L1707.9,76.1 L1713,76.1 L1718,76.1 L1723.1,76.1 L1728.2,76.1 L1733.3,76.1 L1738.4,76.1 L1743.5,76.1 L1748.6,76.1 L1753.7,76.1 L1758.8,76 L1763.9,76 L1769,75.9 L1774.1,75.9 L1779.3,75.9 L1784.1,75.8 L1784.1,77.8 L1779.3,77.9 L1774.1,77.9 L1769,78 L1763.9,78 L1758.8,78.1 L1753.7,78.1 L1748.6,78.2 L1743.5,78.2 L1738.4,78.2 L1733.3,78.3 L1728.2,78.3 L1723.1,78.3 L1718,78.3 L1713,78.3 L1707.9,78.3 L1702.8,78.4 L1697.8,78.4 L1692.7,78.4 L1687.7,78.4 L1682.6,78.4 L1677.5,78.4 L1672.5,78.4 L1667.5,78.4 L1662.4,78.4 L1657.4,78.4 L1652.3,78.4 L1647.3,78.3 L1642.3,78.3 L1637.2,78.3 L1632.2,78.3 L1627.2,78.3 L1622.2,78.4 L1617.2,78.4 L1612.1,78.4 L1607.1,78.4 L1602.1,78.4 L1597.1,78.4 L1592.1,78.4 L1587.1,78.5 L1582.1,78.5 L1577.1,78.5 L1572.1,78.5 L1567.1,78.6 L1562.1,78.6 L1557.1,78.7 L1552.1,78.7 L1547.1,78.8 L1542.1,78.9 L1537.1,78.9 L1532.1,79 L1527.1,79.1 L1522.1,79.2 L1517.1,79.3 L1512.1,79.4 L1507.2,79.5 L1502.2,79.7 L1497.2,79.8 L1492.2,80 L1487.2,80.1 L1482.2,80.3 L1477.2,80.4 L1472.3,80.6 L1467.3,80.8 L1462.3,81 L1457.3,81.2 L1452.3,81.5 L1447.3,81.7 L1442.3,81.9 L1437.3,82.2 L1432.4,82.5 L1427.4,82.7 L1422.4,83 L1417.4,83.3 L1412.4,83.7 L1407.4,84 L1402.4,84.4 L1397.4,84.7 L1392.4,85.1 L1387.4,85.5 L1382.4,85.9 L1377.4,86.3 L1372.4,86.7 L1367.4,87.2 L1362.4,87.7 L1357.4,88.1 L1352.4,88.6 L1347.4,89.1 L1342.4,89.7 L1337.4,90.2 L1332.4,90.8 L1327.3,91.4 L1322.3,92 L1317.3,92.6 L1312.3,93.2 L1307.3,93.9 L1302.2,94.6 L1297.2,95.3 L1292.2,96 L1287.1,96.7 L1282.1,97.5 L1277,98.2 L1272,99 L1267,99.9 L1261.9,100.7 L1256.9,101.6 L1251.8,102.5 L1246.8,103.4 L1241.8,104.4 L1236.8,105.4 L1231.8,106.4 L1226.8,107.4 L1221.8,108.5 L1216.8,109.7 L1211.9,110.8 L1206.9,112.1 L1202,113.3 L1197.1,114.6 L1192.2,115.9 L1187.3,117.3 L1182.4,118.7 L1177.6,120.2 L1172.8,121.7 L1168,123.3 L1163.2,124.9 L1158.4,126.6 L1153.7,128.3 L1149,130.1 L1144.3,132 L1139.7,133.9 L1135.1,135.8 L1130.5,137.8 L1126,139.9 L1121.5,142 L1117,144.3 L1112.6,146.5 L1108.2,148.9 L1103.8,151.3 L1099.5,153.7 L1095.2,156.3 L1091,158.9 L1086.8,161.6 L1082.6,164.4 L1078.5,167.2 L1074.4,170.1 L1070.4,173.1 L1066.5,176.2 L1062.6,179.3 L1058.7,182.5 L1054.9,185.8 L1051.3,189.2 L1047.6,192.6 L1044.1,196.1 L1040.6,199.7 L1037.2,203.3 L1034,207 L1030.8,210.8 L1027.7,214.7 L1024.7,218.6 L1021.8,222.6 L1019,226.7 L1016.4,230.8 L1013.9,235.1 L1011.4,239.3 L1009.2,243.7 L1007,248.1 L1005,252.5 L1003.1,257 L1001.4,261.6 L999.8,266.2 L998.4,270.9 L997,275.6 L995.8,280.4 L994.7,285.2 L993.8,290 L992.9,294.8 L992.1,299.7 L991.3,304.7 L990.7,309.6 L990.1,314.6 L989.5,319.6 L989,324.6 L988.6,329.6 L988.1,334.6 L987.7,339.7 L987.4,344.7 L987,349.8 L986.7,354.9 L986.4,360 L986.1,365 L985.8,370.1 L985.6,375.2 L985.3,380.4 L985.1,385.5 L984.9,390.6 L984.7,395.7 L984.6,400.9 L984.4,406 L984.3,411.1 L984.2,416.3 L984.1,421.4 L984,426.5 L983.9,431.7 L983.8,436.8 L983.7,442 L983.7,447.1 L983.6,452.2 L983.6,457.4 L983.5,462.5 L983.5,467.6 L983.4,472.8 L983.4,477.9 L983.3,483 L983.3,488.1 L983.3,493.2 L983.2,498.3 L983.2,503.4 L983.1,508.4 L983.1,513.5 L983,518.6 L982.9,523.6 L982.8,528.6 L982.7,533.7 L982.7,538.7 L982.5,543.7 L982.4,548.7 L982.3,553.6 L982.1,558.6 L982,563.5 L981.8,568.4 L981.6,573.4 L981.4,578.2 L981.2,583.1 L980.9,588 L980.7,592.8 L980.4,597.6 L980.1,602.4 L979.7,607.2 L979.4,612 L979.5,617.5 Z" fill="#2ca02c" fill-opacity="0.15" stroke="none"/>
<path d="M979.5,615.5 L979.3,610 L979.7,605.2 L980,600.4 L980.2,595.6 L980.5,590.7 L980.7,585.9 L981,581 L981.2,576.1 L981.4,571.2 L981.5,566.3 L981.7,561.4 L981.9,556.4 L982,551.4 L982.1,546.5 L982.3,541.5 L982.4,536.5 L982.5,531.4 L982.6,526.4 L982.6,521.4 L982.7,516.3 L982.8,511.3 L982.8,506.2 L982.9,501.1 L983,496.1 L983,491 L983,485.9 L983.1,480.8 L983.1,475.7 L983.2,470.5 L983.2,465.4 L983.2,460.3 L983.3,455.2 L983.3,450.1 L983.4,444.9 L983.4,439.8 L983.5,434.7 L983.5,429.6 L983.6,424.4 L983.7,419.3 L983.8,414.2 L983.8,409 L983.9,403.9 L984,398.8 L984.1,393.7 L984.3,388.6 L984.4,383.5 L984.5,378.4 L984.7,373.3 L984.9,368.2 L985.1,363.1 L985.3,358 L985.5,352.9 L985.7,347.9 L986,342.8 L986.2,337.8 L986.5,332.8 L986.8,327.7 L987.1,322.7 L987.5,317.7 L987.9,312.7 L988.3,307.8 L988.8,302.8 L989.4,297.9 L990,292.9 L990.7,288 L991.5,283.1 L992.4,278.2 L993.4,273.4 L994.5,268.5 L995.7,263.7 L997.1,258.9 L998.6,254.1 L1000.2,249.3 L1002,244.6 L1003.9,240 L1006,235.4 L1008.2,230.8 L1010.5,226.4 L1013,222.1 L1015.7,217.8 L1018.4,213.7 L1021.4,209.7 L1024.4,205.9 L1027.7,202.3 L1031,198.8 L1034.5,195.4 L1038.2,192.3 L1042,189.3 L1045.8,186.4 L1049.8,183.6 L1053.9,181 L1058.1,178.5 L1062.3,176.1 L1066.7,173.7 L1071,171.5 L1075.4,169.2 L1079.9,167.1 L1084.4,164.9 L1088.9,162.9 L1093.4,160.8 L1097.9,158.8 L1102.5,156.8 L1107.1,154.9 L1111.8,152.9 L1116.4,151.1 L1121.1,149.2 L1125.8,147.4 L1130.5,145.7 L1135.2,143.9 L1140,142.2 L1144.7,140.6 L1149.5,138.9 L1154.3,137.3 L1159.1,135.8 L1164,134.2 L1168.8,132.7 L1173.7,131.3 L1178.6,129.8 L1183.5,128.4 L1188.4,127 L1193.3,125.7 L1198.2,124.3 L1203.1,123.1 L1208.1,121.8 L1213,120.6 L1218,119.3 L1223,118.2 L1228,117 L1232.9,115.9 L1237.9,114.8 L1242.9,113.7 L1247.9,112.7 L1252.9,111.7 L1257.9,110.7 L1262.9,109.7 L1267.9,108.7 L1272.9,107.8 L1277.9,106.9 L1282.9,106.1 L1287.9,105.2 L1292.9,104.4 L1297.9,103.6 L1302.9,102.8 L1307.9,102 L1312.9,101.3 L1317.9,100.6 L1322.9,99.9 L1327.9,99.2 L1332.8,98.5 L1337.8,97.9 L1342.8,97.3 L1347.8,96.6 L1352.8,96.1 L1357.8,95.5 L1362.8,94.9 L1367.8,94.4 L1372.8,93.9 L1377.8,93.4 L1382.7,92.9 L1387.7,92.5 L1392.7,92 L1397.7,91.6 L1402.7,91.1 L1407.7,90.7 L1412.7,90.4 L1417.7,90 L1422.7,89.6 L1427.6,89.3 L1432.6,88.9 L1437.6,88.6 L1442.6,88.3 L1447.6,88 L1452.6,87.7 L1457.6,87.4 L1462.6,87.1 L1467.6,86.9 L1472.6,86.6 L1477.5,86.4 L1482.5,86.1 L1487.5,85.9 L1492.5,85.7 L1497.5,85.5 L1502.5,85.3 L1507.5,85.1 L1512.5,84.9 L1517.5,84.7 L1522.5,84.5 L1527.5,84.4 L1532.5,84.2 L1537.5,84 L1542.5,83.9 L1547.5,83.7 L1552.5,83.6 L1557.5,83.5 L1562.5,83.3 L1567.5,83.2 L1572.5,83 L1577.5,82.9 L1582.6,82.8 L1587.6,82.7 L1592.6,82.5 L1597.6,82.4 L1602.6,82.3 L1607.6,82.1 L1612.7,82 L1617.7,81.9 L1622.7,81.8 L1627.7,81.6 L1632.8,81.5 L1637.8,81.4 L1642.8,81.2 L1647.8,81.1 L1652.9,80.9 L1657.9,80.8 L1662.9,80.6 L1668,80.5 L1673,80.3 L1678.1,80.2 L1683.1,80 L1688.2,79.8 L1693.2,79.6 L1698.3,79.5 L1703.3,79.3 L1708.4,79.1 L1713.4,78.8 L1718.5,78.6 L1723.5,78.4 L1728.6,78.2 L1733.7,77.9 L1738.7,77.7 L1743.8,77.4 L1748.9,77.1 L1754,76.8 L1759,76.5 L1764.1,76.2 L1769.2,75.9 L1774.3,75.6 L1779.4,75.2 L1784.1,75.8 L1784.1,77.8 L1779.4,77.2 L1774.3,77.6 L1769.2,77.9 L1764.1,78.2 L1759,78.5 L1754,78.8 L1748.9,79.1 L1743.8,79.4 L1738.7,79.7 L1733.7,79.9 L1728.6,80.2 L1723.5,80.4 L1718.5,80.6 L1713.4,80.8 L1708.4,81.1 L1703.3,81.3 L1698.3,81.5 L1693.2,81.6 L1688.2,81.8 L1683.1,82 L1678.1,82.2 L1673,82.3 L1668,82.5 L1662.9,82.6 L1657.9,82.8 L1652.9,82.9 L1647.8,83.1 L1642.8,83.2 L1637.8,83.4 L1632.8,83.5 L1627.7,83.6 L1622.7,83.8 L1617.7,83.9 L1612.7,84 L1607.6,84.1 L1602.6,84.3 L1597.6,84.4 L1592.6,84.5 L1587.6,84.7 L1582.6,84.8 L1577.5,84.9 L1572.5,85 L1567.5,85.2 L1562.5,85.3 L1557.5,85.5 L1552.5,85.6 L1547.5,85.7 L1542.5,85.9 L1537.5,86 L1532.5,86.2 L1527.5,86.4 L1522.5,86.5 L1517.5,86.7 L1512.5,86.9 L1507.5,87.1 L1502.5,87.3 L1497.5,87.5 L1492.5,87.7 L1487.5,87.9 L1482.5,88.1 L1477.5,88.4 L1472.6,88.6 L1467.6,88.9 L1462.6,89.1 L1457.6,89.4 L1452.6,89.7 L1447.6,90 L1442.6,90.3 L1437.6,90.6 L1432.6,90.9 L1427.6,91.3 L1422.7,91.6 L1417.7,92 L1412.7,92.4 L1407.7,92.7 L1402.7,93.1 L1397.7,93.6 L1392.7,94 L1387.7,94.5 L1382.7,94.9 L1377.8,95.4 L1372.8,95.9 L1367.8,96.4 L1362.8,96.9 L1357.8,97.5 L1352.8,98.1 L1347.8,98.6 L1342.8,99.3 L1337.8,99.9 L1332.8,100.5 L1327.9,101.2 L1322.9,101.9 L1317.9,102.6 L1312.9,103.3 L1307.9,104 L1302.9,104.8 L1297.9,105.6 L1292.9,106.4 L1287.9,107.2 L1282.9,108.1 L1277.9,108.9 L1272.9,109.8 L1267.9,110.7 L1262.9,111.7 L1257.9,112.7 L1252.9,113.7 L1247.9,114.7 L1242.9,115.7 L1237.9,116.8 L1232.9,117.9 L1228,119 L1223,120.2 L1218,121.3 L1213,122.6 L1208.1,123.8 L1203.1,125.1 L1198.2,126.3 L1193.3,127.7 L1188.4,129 L1183.5,130.4 L1178.6,131.8 L1173.7,133.3 L1168.8,134.7 L1164,136.2 L1159.1,137.8 L1154.3,139.3 L1149.5,140.9 L1144.7,142.6 L1140,144.2 L1135.2,145.9 L1130.5,147.7 L1125.8,149.4 L1121.1,151.2 L1116.4,153.1 L1111.8,154.9 L1107.1,156.9 L1102.5,158.8 L1097.9,160.8 L1093.4,162.8 L1088.9,164.9 L1084.4,166.9 L1079.9,169.1 L1075.4,171.2 L1071,173.5 L1066.7,175.7 L1062.3,178.1 L1058.1,180.5 L1053.9,183 L1049.8,185.6 L1045.8,188.4 L1042,191.3 L1038.2,194.3 L1034.5,197.4 L1031,200.8 L1027.7,204.3 L1024.4,207.9 L1021.4,211.7 L1018.4,215.7 L1015.7,219.8 L1013,224.1 L1010.5,228.4 L1008.2,232.8 L1006,237.4 L1003.9,242 L1002,246.6 L1000.2,251.3 L998.6,256.1 L997.1,260.9 L995.7,265.7 L994.5,270.5 L993.4,275.4 L992.4,280.2 L991.5,285.1 L990.7,290 L990,294.9 L989.4,299.9 L988.8,304.8 L988.3,309.8 L987.9,314.7 L987.5,319.7 L987.1,324.7 L986.8,329.7 L986.5,334.8 L986.2,339.8 L986,344.8 L985.7,349.9 L985.5,354.9 L985.3,360 L985.1,365.1 L984.9,370.2 L984.7,375.3 L984.5,380.4 L984.4,385.5 L984.3,390.6 L984.1,395.7 L984,400.8 L983.9,405.9 L983.8,411 L983.8,416.2 L983.7,421.3 L983.6,426.4 L983.5,431.6 L983.5,436.7 L983.4,441.8 L983.4,446.9 L983.3,452.1 L983.3,457.2 L983.2,462.3 L983.2,467.4 L983.2,472.5 L983.1,477.7 L983.1,482.8 L983,487.9 L983,493 L983,498.1 L982.9,503.1 L982.8,508.2 L982.8,513.3 L982.7,518.3 L982.6,523.4 L982.6,528.4 L982.5,533.4 L982.4,538.5 L982.3,543.5 L982.1,548.5 L982,553.4 L981.9,558.4 L981.7,563.4 L981.5,568.3 L981.4,573.2 L981.2,578.1 L981,583 L980.7,587.9 L980.5,592.7 L980.2,597.6 L980,602.4 L979.7,607.2 L979.3,612 L979.5,617.5 Z" fill="#9467bd" fill-opacity="0.15" stroke="none"/>
<path d="M979.5,615.5 L979.4,610.2 L979.7,605.3 L980.1,600.4 L980.4,595.5 L980.8,590.6 L981,585.7 L981.3,580.7 L981.5,575.8 L981.8,570.8 L982,565.8 L982.1,560.8 L982.3,555.8 L982.4,550.8 L982.6,545.8 L982.7,540.8 L982.8,535.7 L982.9,530.7 L982.9,525.6 L983,520.6 L983.1,515.5 L983.1,510.4 L983.2,505.4 L983.2,500.3 L983.2,495.2 L983.2,490.1 L983.3,485 L983.3,479.9 L983.3,474.8 L983.3,469.7 L983.3,464.6 L983.4,459.5 L983.4,454.4 L983.4,449.3 L983.4,444.2 L983.5,439.1 L983.5,433.9 L983.6,428.8 L983.7,423.7 L983.7,418.6 L983.8,413.5 L983.9,408.4 L984.1,403.3 L984.2,398.2 L984.3,393.1 L984.5,388 L984.7,383 L984.9,377.9 L985.1,372.8 L985.4,367.8 L985.6,362.7 L985.9,357.7 L986.2,352.6 L986.6,347.6 L987,342.6 L987.4,337.5 L987.8,332.5 L988.2,327.5 L988.7,322.5 L989.3,317.6 L989.8,312.6 L990.5,307.6 L991.1,302.7 L991.9,297.8 L992.7,292.8 L993.6,287.9 L994.6,283 L995.7,278.2 L996.9,273.3 L998.2,268.5 L999.6,263.6 L1001.1,258.8 L1002.8,254 L1004.6,249.2 L1006.5,244.5 L1008.5,239.8 L1010.7,235.1 L1013,230.5 L1015.4,226 L1018,221.6 L1020.7,217.2 L1023.5,213 L1026.4,208.8 L1029.5,204.8 L1032.7,200.9 L1036.1,197.2 L1039.5,193.6 L1043.1,190.1 L1046.8,186.8 L1050.6,183.6 L1054.5,180.6 L1058.5,177.7 L1062.6,174.9 L1066.7,172.2 L1070.9,169.5 L1075.1,167 L1079.4,164.6 L1083.8,162.2 L1088.1,160 L1092.5,157.8 L1097,155.6 L1101.4,153.6 L1106,151.6 L1110.5,149.6 L1115.1,147.8 L1119.7,145.9 L1124.3,144.2 L1129,142.4 L1133.6,140.8 L1138.3,139.1 L1143.1,137.6 L1147.8,136 L1152.6,134.5 L1157.4,133.1 L1162.3,131.6 L1167.1,130.2 L1172,128.8 L1176.8,127.5 L1181.7,126.1 L1186.7,124.8 L1191.6,123.5 L1196.5,122.3 L1201.5,121 L1206.5,119.8 L1211.4,118.6 L1216.4,117.4 L1221.4,116.2 L1226.4,115.1 L1231.5,114 L1236.5,112.8 L1241.5,111.8 L1246.5,110.7 L1251.6,109.7 L1256.6,108.7 L1261.6,107.7 L1266.7,106.7 L1271.7,105.8 L1276.8,104.8 L1281.8,103.9 L1286.8,103.1 L1291.9,102.2 L1296.9,101.4 L1301.9,100.6 L1306.9,99.8 L1311.9,99 L1317,98.3 L1322,97.5 L1327,96.8 L1332,96.2 L1337,95.5 L1342,94.8 L1347,94.2 L1352.1,93.6 L1357.1,93 L1362.1,92.4 L1367.1,91.9 L1372.1,91.3 L1377.1,90.8 L1382.1,90.3 L1387.1,89.8 L1392.1,89.3 L1397.1,88.9 L1402.1,88.4 L1407.1,88 L1412.1,87.6 L1417.1,87.2 L1422,86.8 L1427,86.4 L1432,86.1 L1437,85.7 L1442,85.4 L1447,85 L1452,84.7 L1457,84.4 L1462,84.2 L1467,83.9 L1472,83.6 L1477,83.4 L1482,83.1 L1487,82.9 L1492,82.7 L1496.9,82.4 L1501.9,82.2 L1506.9,82 L1511.9,81.9 L1516.9,81.7 L1521.9,81.5 L1526.9,81.3 L1531.9,81.2 L1536.9,81 L1541.9,80.9 L1546.9,80.7 L1551.9,80.6 L1556.9,80.5 L1562,80.4 L1567,80.2 L1572,80.1 L1577,80 L1582,79.9 L1587,79.8 L1592,79.7 L1597,79.6 L1602.1,79.5 L1607.1,79.4 L1612.1,79.3 L1617.1,79.3 L1622.2,79.2 L1627.2,79.1 L1632.2,79 L1637.3,78.9 L1642.3,78.8 L1647.3,78.8 L1652.4,78.7 L1657.4,78.6 L1662.5,78.5 L1667.5,78.4 L1672.6,78.3 L1677.6,78.2 L1682.7,78.1 L1687.8,78 L1692.8,77.9 L1697.9,77.8 L1703,77.7 L1708,77.6 L1713.1,77.5 L1718.2,77.4 L1723.3,77.3 L1728.4,77.1 L1733.5,77 L1738.6,76.9 L1743.7,76.7 L1748.8,76.6 L1753.9,76.4 L1759,76.2 L1764.1,76.1 L1769.2,75.9 L1774.3,75.7 L1779.5,75.5 L1784.1,75.8 L1784.1,77.8 L1779.5,77.5 L1774.3,77.7 L1769.2,77.9 L1764.1,78.1 L1759,78.3 L1753.9,78.5 L1748.8,78.7 L1743.7,78.8 L1738.6,79 L1733.5,79.1 L1728.4,79.3 L1723.3,79.4 L1718.2,79.6 L1713.1,79.7 L1708,79.8 L1703,80 L1697.9,80.1 L1692.8,80.2 L1687.8,80.3 L1682.7,80.4 L1677.6,80.5 L1672.6,80.6 L1667.5,80.7 L1662.5,80.8 L1657.4,80.9 L1652.4,81 L1647.3,81.1 L1642.3,81.2 L1637.3,81.3 L1632.2,81.4 L1627.2,81.5 L1622.2,81.6 L1617.1,81.7 L1612.1,81.8 L1607.1,81.9 L1602.1,82 L1597,82.1 L1592,82.2 L1587,82.3 L1582,82.5 L1577,82.6 L1572,82.7 L1567,82.8 L1562,83 L1556.9,83.1 L1551.9,83.2 L1546.9,83.4 L1541.9,83.5 L1536.9,83.7 L1531.9,83.9 L1526.9,84 L1521.9,84.2 L1516.9,84.4 L1511.9,84.6 L1506.9,84.8 L1501.9,85 L1496.9,85.2 L1492,85.5 L1487,85.7 L1482,85.9 L1477,86.2 L1472,86.5 L1467,86.7 L1462,87 L1457,87.3 L1452,87.6 L1447,88 L1442,88.3 L1437,88.7 L1432,89 L1427,89.4 L1422,89.8 L1417.1,90.2 L1412.1,90.6 L1407.1,91 L1402.1,91.5 L1397.1,91.9 L1392.1,92.4 L1387.1,92.9 L1382.1,93.4 L1377.1,93.9 L1372.1,94.4 L1367.1,95 L1362.1,95.6 L1357.1,96.2 L1352.1,96.8 L1347,97.4 L1342,98 L1337,98.7 L1332,99.4 L1327,100.1 L1322,100.8 L1317,101.5 L1311.9,102.3 L1306.9,103.1 L1301.9,103.9 L1296.9,104.7 L1291.9,105.6 L1286.8,106.4 L1281.8,107.3 L1276.8,108.2 L1271.7,109.2 L1266.7,110.1 L1261.6,111.1 L1256.6,112.1 L1251.6,113.1 L1246.5,114.2 L1241.5,115.2 L1236.5,116.3 L1231.5,117.5 L1226.4,118.6 L1221.4,119.8 L1216.4,120.9 L1211.4,122.1 L1206.5,123.4 L1201.5,124.6 L1196.5,125.9 L1191.6,127.1 L1186.7,128.5 L1181.7,129.8 L1176.8,131.1 L1172,132.5 L1167.1,133.9 L1162.3,135.3 L1157.4,136.8 L1152.6,138.2 L1147.8,139.8 L1143.1,141.3 L1138.3,142.9 L1133.6,144.5 L1129,146.2 L1124.3,148 L1119.7,149.7 L1115.1,151.6 L1110.5,153.5 L1106,155.4 L1101.4,157.4 L1097,159.5 L1092.5,161.7 L1088.1,163.9 L1083.8,166.2 L1079.4,168.5 L1075.1,171 L1070.9,173.5 L1066.7,176.1 L1062.6,178.8 L1058.5,181.6 L1054.5,184.6 L1050.6,187.6 L1046.8,190.7 L1043.1,193.9 L1039.5,197.3 L1036.1,200.8 L1032.7,204.5 L1029.5,208.3 L1026.4,212.2 L1023.5,216.2 L1020.7,220.4 L1018,224.7 L1015.4,229 L1013,233.5 L1010.7,238 L1008.5,242.6 L1006.5,247.2 L1004.6,251.9 L1002.8,256.7 L1001.1,261.4 L999.6,266.2 L998.2,271 L996.9,275.8 L995.7,280.6 L994.6,285.5 L993.6,290.4 L992.7,295.2 L991.9,300.1 L991.1,305 L990.5,310 L989.8,314.9 L989.3,319.9 L988.7,324.8 L988.2,329.8 L987.8,334.8 L987.4,339.8 L987,344.8 L986.6,349.8 L986.2,354.8 L985.9,359.8 L985.6,364.9 L985.4,369.9 L985.1,375 L984.9,380.1 L984.7,385.1 L984.5,390.2 L984.3,395.3 L984.2,400.4 L984.1,405.5 L983.9,410.6 L983.8,415.7 L983.7,420.8 L983.7,425.9 L983.6,431 L983.5,436.1 L983.5,441.2 L983.4,446.3 L983.4,451.4 L983.4,456.5 L983.4,461.6 L983.3,466.7 L983.3,471.8 L983.3,476.9 L983.3,482 L983.3,487.1 L983.2,492.2 L983.2,497.3 L983.2,502.4 L983.2,507.5 L983.1,512.6 L983.1,517.6 L983,522.7 L982.9,527.8 L982.9,532.8 L982.8,537.8 L982.7,542.9 L982.6,547.9 L982.4,552.9 L982.3,557.9 L982.1,562.9 L982,567.9 L981.8,572.9 L981.5,577.8 L981.3,582.8 L981,587.7 L980.8,592.6 L980.4,597.6 L980.1,602.5 L979.7,607.3 L979.4,612.2 L979.5,617.5 Z" fill="#8c564b" fill-opacity="0.15" stroke="none"/>
<path d="M979.5,616 L979.4,610.7 L979.6,605.8 L979.9,600.9 L980.1,596 L980.3,591.1 L980.6,586.2 L980.8,581.2 L980.9,576.3 L981.1,571.3 L981.3,566.4 L981.5,561.4 L981.6,556.4 L981.8,551.4 L981.9,546.5 L982,541.5 L982.2,536.5 L982.3,531.5 L982.4,526.4 L982.5,521.4 L982.6,516.4 L982.7,511.4 L982.8,506.3 L982.9,501.3 L982.9,496.3 L983,491.2 L983.1,486.2 L983.1,481.1 L983.2,476 L983.3,471 L983.3,465.9 L983.4,460.9 L983.4,455.8 L983.5,450.7 L983.5,445.7 L983.5,440.6 L983.6,435.5 L983.6,430.4 L983.7,425.4 L983.7,420.3 L983.8,415.2 L983.8,410.2 L983.8,405.1 L983.9,400 L983.9,394.9 L984,389.9 L984,384.8 L984.1,379.7 L984.1,374.7 L984.2,369.6 L984.3,364.6 L984.3,359.5 L984.4,354.5 L984.5,349.4 L984.5,344.4 L984.6,339.3 L984.7,334.3 L984.8,329.3 L984.9,324.2 L985,319.2 L985.1,314.2 L985.3,309.2 L985.5,304.2 L985.7,299.2 L986,294.2 L986.4,289.2 L986.8,284.3 L987.4,279.3 L988,274.3 L988.7,269.4 L989.5,264.4 L990.4,259.5 L991.4,254.6 L992.6,249.7 L993.8,244.8 L995.3,240 L996.8,235.2 L998.5,230.4 L1000.3,225.7 L1002.3,221.1 L1004.4,216.6 L1006.7,212.1 L1009.1,207.8 L1011.6,203.6 L1014.4,199.5 L1017.3,195.5 L1020.3,191.6 L1023.5,187.9 L1026.8,184.2 L1030.3,180.7 L1033.8,177.3 L1037.5,174 L1041.3,170.8 L1045.1,167.8 L1049.1,164.8 L1053.1,161.9 L1057.2,159.1 L1061.3,156.4 L1065.5,153.8 L1069.8,151.3 L1074,148.8 L1078.4,146.5 L1082.7,144.2 L1087.1,142 L1091.6,139.9 L1096.1,137.8 L1100.6,135.9 L1105.1,134 L1109.7,132.1 L1114.4,130.4 L1119,128.7 L1123.7,127 L1128.4,125.4 L1133.2,123.9 L1137.9,122.5 L1142.7,121.1 L1147.6,119.7 L1152.4,118.5 L1157.3,117.2 L1162.2,116 L1167.1,114.9 L1172.1,113.8 L1177,112.7 L1182,111.7 L1187,110.8 L1192,109.8 L1197,109 L1202,108.1 L1207.1,107.3 L1212.1,106.5 L1217.2,105.7 L1222.3,105 L1227.4,104.3 L1232.4,103.6 L1237.5,102.9 L1242.6,102.3 L1247.7,101.7 L1252.8,101.1 L1257.9,100.5 L1263,99.9 L1268.1,99.4 L1273.2,98.8 L1278.2,98.3 L1283.3,97.7 L1288.4,97.2 L1293.4,96.7 L1298.5,96.1 L1303.6,95.6 L1308.6,95.1 L1313.6,94.6 L1318.7,94.2 L1323.7,93.7 L1328.8,93.2 L1333.8,92.7 L1338.8,92.3 L1343.8,91.8 L1348.8,91.4 L1353.9,90.9 L1358.9,90.5 L1363.9,90.1 L1368.9,89.7 L1373.9,89.2 L1378.9,88.8 L1383.9,88.4 L1388.8,88.1 L1393.8,87.7 L1398.8,87.3 L1403.8,86.9 L1408.8,86.6 L1413.8,86.2 L1418.7,85.9 L1423.7,85.5 L1428.7,85.2 L1433.6,84.8 L1438.6,84.5 L1443.6,84.2 L1448.5,83.9 L1453.5,83.6 L1458.5,83.3 L1463.4,83 L1468.4,82.7 L1473.4,82.4 L1478.3,82.2 L1483.3,81.9 L1488.2,81.6 L1493.2,81.4 L1498.2,81.1 L1503.1,80.9 L1508.1,80.7 L1513,80.4 L1518,80.2 L1523,80 L1527.9,79.8 L1532.9,79.6 L1537.8,79.4 L1542.8,79.2 L1547.8,79 L1552.7,78.8 L1557.7,78.7 L1562.7,78.5 L1567.7,78.3 L1572.6,78.2 L1577.6,78 L1582.6,77.9 L1587.6,77.8 L1592.5,77.6 L1597.5,77.5 L1602.5,77.4 L1607.5,77.3 L1612.5,77.2 L1617.5,77.1 L1622.5,77 L1627.5,76.9 L1632.5,76.8 L1637.5,76.7 L1642.5,76.6 L1647.5,76.6 L1652.6,76.5 L1657.6,76.5 L1662.6,76.4 L1667.6,76.4 L1672.7,76.3 L1677.7,76.3 L1682.8,76.3 L1687.8,76.2 L1692.9,76.2 L1697.9,76.2 L1703,76.2 L1708.1,76.2 L1713.1,76.2 L1718.2,76.2 L1723.3,76.2 L1728.4,76.3 L1733.5,76.3 L1738.6,76.3 L1743.7,76.4 L1748.8,76.4 L1753.9,76.4 L1759.1,76.5 L1764.2,76.6 L1769.4,76.6 L1774.5,76.7 L1779.7,76.8 L1784.1,76.3 L1784.1,77.3 L1779.7,77.8 L1774.5,77.7 L1769.4,77.6 L1764.2,77.6 L1759.1,77.5 L1753.9,77.4 L1748.8,77.4 L1743.7,77.4 L1738.6,77.3 L1733.5,77.3 L1728.4,77.3 L1723.3,77.2 L1718.2,77.2 L1713.1,77.2 L1708.1,77.2 L1703,77.2 L1697.9,77.2 L1692.9,77.2 L1687.8,77.2 L1682.8,77.3 L1677.7,77.3 L1672.7,77.3 L1667.6,77.4 L1662.6,77.4 L1657.6,77.5 L1652.6,77.5 L1647.5,77.6 L1642.5,77.6 L1637.5,77.7 L1632.5,77.8 L1627.5,77.9 L1622.5,78 L1617.5,78.1 L1612.5,78.2 L1607.5,78.3 L1602.5,78.4 L1597.5,78.5 L1592.5,78.6 L1587.6,78.8 L1582.6,78.9 L1577.6,79 L1572.6,79.2 L1567.7,79.3 L1562.7,79.5 L1557.7,79.7 L1552.7,79.8 L1547.8,80 L1542.8,80.2 L1537.8,80.4 L1532.9,80.6 L1527.9,80.8 L1523,81 L1518,81.2 L1513,81.4 L1508.1,81.7 L1503.1,81.9 L1498.2,82.1 L1493.2,82.4 L1488.2,82.6 L1483.3,82.9 L1478.3,83.2 L1473.4,83.4 L1468.4,83.7 L1463.4,84 L1458.5,84.3 L1453.5,84.6 L1448.5,84.9 L1443.6,85.2 L1438.6,85.5 L1433.6,85.8 L1428.7,86.2 L1423.7,86.5 L1418.7,86.9 L1413.8,87.2 L1408.8,87.6 L1403.8,87.9 L1398.8,88.3 L1393.8,88.7 L1388.8,89.1 L1383.9,89.4 L1378.9,89.8 L1373.9,90.2 L1368.9,90.7 L1363.9,91.1 L1358.9,91.5 L1353.9,91.9 L1348.8,92.4 L1343.8,92.8 L1338.8,93.3 L1333.8,93.7 L1328.8,94.2 L1323.7,94.7 L1318.7,95.2 L1313.6,95.6 L1308.6,96.1 L1303.6,96.6 L1298.5,97.1 L1293.4,97.7 L1288.4,98.2 L1283.3,98.7 L1278.2,99.3 L1273.2,99.8 L1268.1,100.4 L1263,100.9 L1257.9,101.5 L1252.8,102.1 L1247.7,102.7 L1242.6,103.3 L1237.5,103.9 L1232.4,104.6 L1227.4,105.3 L1222.3,106 L1217.2,106.7 L1212.1,107.5 L1207.1,108.3 L1202,109.1 L1197,110 L1192,110.8 L1187,111.8 L1182,112.7 L1177,113.7 L1172.1,114.8 L1167.1,115.9 L1162.2,117 L1157.3,118.2 L1152.4,119.5 L1147.6,120.7 L1142.7,122.1 L1137.9,123.5 L1133.2,124.9 L1128.4,126.4 L1123.7,128 L1119,129.7 L1114.4,131.4 L1109.7,133.1 L1105.1,135 L1100.6,136.9 L1096.1,138.8 L1091.6,140.9 L1087.1,143 L1082.7,145.2 L1078.4,147.5 L1074,149.8 L1069.8,152.3 L1065.5,154.8 L1061.3,157.4 L1057.2,160.1 L1053.1,162.9 L1049.1,165.8 L1045.1,168.8 L1041.3,171.8 L1037.5,175 L1033.8,178.3 L1030.3,181.7 L1026.8,185.2 L1023.5,188.9 L1020.3,192.6 L1017.3,196.5 L1014.4,200.5 L1011.6,204.6 L1009.1,208.8 L1006.7,213.1 L1004.4,217.6 L1002.3,222.1 L1000.3,226.7 L998.5,231.4 L996.8,236.2 L995.3,241 L993.8,245.8 L992.6,250.7 L991.4,255.6 L990.4,260.5 L989.5,265.4 L988.7,270.4 L988,275.3 L987.4,280.3 L986.8,285.3 L986.4,290.2 L986,295.2 L985.7,300.2 L985.5,305.2 L985.3,310.2 L985.1,315.2 L985,320.2 L984.9,325.2 L984.8,330.3 L984.7,335.3 L984.6,340.3 L984.5,345.4 L984.5,350.4 L984.4,355.5 L984.3,360.5 L984.3,365.6 L984.2,370.6 L984.1,375.7 L984.1,380.7 L984,385.8 L984,390.9 L983.9,395.9 L983.9,401 L983.8,406.1 L983.8,411.2 L983.8,416.2 L983.7,421.3 L983.7,426.4 L983.6,431.4 L983.6,436.5 L983.5,441.6 L983.5,446.7 L983.5,451.7 L983.4,456.8 L983.4,461.9 L983.3,466.9 L983.3,472 L983.2,477 L983.1,482.1 L983.1,487.2 L983,492.2 L982.9,497.3 L982.9,502.3 L982.8,507.3 L982.7,512.4 L982.6,517.4 L982.5,522.4 L982.4,527.4 L982.3,532.5 L982.2,537.5 L982,542.5 L981.9,547.5 L981.8,552.4 L981.6,557.4 L981.5,562.4 L981.3,567.4 L981.1,572.3 L980.9,577.3 L980.8,582.2 L980.6,587.2 L980.3,592.1 L980.1,597 L979.9,601.9 L979.6,606.8 L979.4,611.7 L979.5,617 Z" fill="#d62728" fill-opacity="0.15" stroke="none"/>
<path d="M979.2,616.5L1784.1,76.8" stroke="#a0a0a0" stroke-width="2.4" stroke-dasharray="10.6,4.3" stroke-dashoffset="-1.2"/>
<path d="M979.5,616.5 L979.1,611.1 L979.7,606.3 L980.3,601.4 L980.8,596.6 L981.3,591.7 L981.7,586.8 L982.1,581.9 L982.4,577 L982.7,572.1 L983,567.2 L983.2,562.2 L983.4,557.2 L983.6,552.3 L983.7,547.3 L983.9,542.3 L984,537.3 L984,532.3 L984.1,527.2 L984.1,522.2 L984.2,517.1 L984.2,512.1 L984.2,507 L984.2,502 L984.1,496.9 L984.1,491.8 L984.1,486.7 L984,481.7 L984,476.6 L984,471.5 L983.9,466.4 L983.9,461.3 L983.9,456.2 L983.9,451.1 L983.9,446 L983.9,440.9 L983.9,435.8 L983.9,430.7 L984,425.6 L984.1,420.5 L984.2,415.4 L984.3,410.3 L984.4,405.2 L984.6,400.1 L984.8,395 L985,390 L985.3,384.9 L985.6,379.8 L986,374.8 L986.3,369.7 L986.8,364.7 L987.2,359.6 L987.7,354.6 L988.3,349.6 L988.9,344.6 L989.5,339.6 L990.2,334.6 L991,329.6 L991.8,324.7 L992.7,319.7 L993.6,314.8 L994.6,309.9 L995.7,305 L996.8,300.1 L998,295.2 L999.2,290.3 L1000.6,285.5 L1002,280.6 L1003.5,275.8 L1005,271 L1006.6,266.2 L1008.4,261.5 L1010.2,256.7 L1012,252 L1014,247.4 L1016.1,242.7 L1018.3,238.1 L1020.5,233.6 L1022.9,229.2 L1025.4,224.9 L1028,220.6 L1030.8,216.5 L1033.7,212.5 L1036.7,208.6 L1039.8,204.9 L1043.1,201.4 L1046.6,198 L1050.2,194.7 L1053.9,191.6 L1057.7,188.6 L1061.6,185.8 L1065.7,183.1 L1069.8,180.4 L1074,177.9 L1078.2,175.4 L1082.6,173.1 L1086.9,170.7 L1091.3,168.5 L1095.7,166.2 L1100.2,164.1 L1104.7,161.9 L1109.2,159.8 L1113.7,157.8 L1118.2,155.8 L1122.8,153.8 L1127.4,151.8 L1132,149.9 L1136.6,148.1 L1141.3,146.3 L1145.9,144.5 L1150.6,142.7 L1155.3,141 L1160.1,139.4 L1164.8,137.7 L1169.6,136.1 L1174.4,134.6 L1179.2,133.1 L1184,131.6 L1188.8,130.1 L1193.7,128.7 L1198.5,127.3 L1203.4,125.9 L1208.3,124.6 L1213.2,123.3 L1218.1,122.1 L1223,120.8 L1228,119.6 L1232.9,118.5 L1237.9,117.3 L1242.8,116.2 L1247.8,115.1 L1252.8,114.1 L1257.8,113.1 L1262.8,112.1 L1267.8,111.1 L1272.8,110.2 L1277.8,109.3 L1282.8,108.4 L1287.9,107.5 L1292.9,106.7 L1297.9,105.9 L1303,105.1 L1308,104.3 L1313,103.6 L1318.1,102.9 L1323.1,102.2 L1328.2,101.5 L1333.2,100.8 L1338.3,100.2 L1343.3,99.6 L1348.4,99 L1353.4,98.4 L1358.5,97.9 L1363.5,97.4 L1368.5,96.9 L1373.6,96.4 L1378.6,95.9 L1383.6,95.4 L1388.6,95 L1393.7,94.6 L1398.7,94.2 L1403.7,93.8 L1408.7,93.4 L1413.7,93 L1418.7,92.7 L1423.7,92.4 L1428.7,92 L1433.7,91.7 L1438.7,91.4 L1443.7,91.2 L1448.7,90.9 L1453.7,90.6 L1458.7,90.4 L1463.7,90.2 L1468.6,89.9 L1473.6,89.7 L1478.6,89.5 L1483.6,89.3 L1488.6,89.1 L1493.6,88.9 L1498.5,88.8 L1503.5,88.6 L1508.5,88.4 L1513.5,88.3 L1518.5,88.1 L1523.4,88 L1528.4,87.8 L1533.4,87.7 L1538.4,87.6 L1543.3,87.4 L1548.3,87.3 L1553.3,87.2 L1558.3,87.1 L1563.3,87 L1568.2,86.9 L1573.2,86.7 L1578.2,86.6 L1583.2,86.5 L1588.2,86.4 L1593.2,86.3 L1598.1,86.2 L1603.1,86.1 L1608.1,85.9 L1613.1,85.8 L1618.1,85.7 L1623.1,85.6 L1628.1,85.4 L1633.1,85.3 L1638.1,85.2 L1643.1,85 L1648.1,84.9 L1653.1,84.7 L1658.1,84.5 L1663.2,84.4 L1668.2,84.2 L1673.2,84 L1678.2,83.8 L1683.3,83.6 L1688.3,83.4 L1693.3,83.2 L1698.4,83 L1703.4,82.7 L1708.5,82.5 L1713.5,82.2 L1718.6,82 L1723.6,81.7 L1728.7,81.4 L1733.7,81.1 L1738.8,80.7 L1743.9,80.4 L1749,80.1 L1754.1,79.7 L1759.1,79.3 L1764.2,78.9 L1769.3,78.5 L1774.5,78.1 L1779.6,77.6 L1784.1,76.8" fill="none" stroke="#1f77b4" stroke-width="3.5" stroke-linejoin="round"/>
<path d="M979.5,616.5 L979.4,611.3 L979.9,606.4 L980.4,601.4 L980.8,596.5 L981.2,591.5 L981.6,586.5 L981.9,581.5 L982.2,576.5 L982.5,571.6 L982.7,566.6 L982.9,561.6 L983.1,556.5 L983.3,551.5 L983.4,546.5 L983.5,541.5 L983.6,536.5 L983.7,531.5 L983.8,526.4 L983.8,521.4 L983.9,516.4 L983.9,511.3 L983.9,506.3 L984,501.2 L984,496.2 L984,491.2 L984,486.1 L984,481.1 L984.1,476 L984.1,471 L984.2,465.9 L984.2,460.9 L984.3,455.8 L984.4,450.8 L984.5,445.7 L984.6,440.7 L984.8,435.6 L984.9,430.6 L985.1,425.6 L985.3,420.5 L985.6,415.5 L985.9,410.5 L986.2,405.4 L986.5,400.4 L986.9,395.4 L987.3,390.3 L987.8,385.3 L988.3,380.3 L988.9,375.3 L989.5,370.3 L990.1,365.3 L990.8,360.3 L991.6,355.3 L992.4,350.3 L993.3,345.3 L994.2,340.4 L995.2,335.4 L996.3,330.4 L997.4,325.5 L998.6,320.5 L999.8,315.6 L1001.1,310.7 L1002.5,305.8 L1004,300.9 L1005.5,296.1 L1007.2,291.2 L1008.9,286.5 L1010.7,281.7 L1012.5,277 L1014.5,272.4 L1016.6,267.8 L1018.7,263.3 L1020.9,258.8 L1023.3,254.4 L1025.7,250 L1028.2,245.8 L1030.8,241.5 L1033.6,237.4 L1036.4,233.3 L1039.3,229.3 L1042.3,225.4 L1045.4,221.6 L1048.6,217.9 L1052,214.2 L1055.4,210.6 L1058.9,207.1 L1062.5,203.7 L1066.3,200.4 L1070.1,197.2 L1074,194 L1077.9,191 L1081.9,188 L1086,185.1 L1090.1,182.3 L1094.3,179.5 L1098.5,176.8 L1102.7,174.2 L1107,171.6 L1111.3,169.1 L1115.6,166.7 L1120,164.3 L1124.4,162 L1128.9,159.8 L1133.3,157.6 L1137.8,155.5 L1142.3,153.4 L1146.9,151.4 L1151.5,149.5 L1156.1,147.6 L1160.7,145.7 L1165.3,143.9 L1170,142.2 L1174.7,140.5 L1179.5,138.9 L1184.2,137.3 L1189,135.8 L1193.8,134.3 L1198.6,132.8 L1203.4,131.4 L1208.2,130.1 L1213.1,128.7 L1218,127.5 L1222.9,126.2 L1227.8,125 L1232.7,123.9 L1237.7,122.8 L1242.6,121.7 L1247.6,120.6 L1252.6,119.6 L1257.6,118.6 L1262.6,117.7 L1267.6,116.7 L1272.6,115.8 L1277.7,115 L1282.7,114.1 L1287.7,113.3 L1292.8,112.5 L1297.8,111.8 L1302.9,111 L1308,110.3 L1313,109.6 L1318.1,108.9 L1323.2,108.2 L1328.2,107.6 L1333.3,106.9 L1338.4,106.3 L1343.4,105.7 L1348.5,105.1 L1353.6,104.5 L1358.6,104 L1363.7,103.4 L1368.7,102.8 L1373.8,102.3 L1378.8,101.8 L1383.8,101.2 L1388.9,100.7 L1393.9,100.2 L1398.9,99.7 L1403.9,99.2 L1408.9,98.7 L1414,98.2 L1419,97.7 L1424,97.2 L1429,96.8 L1434,96.3 L1438.9,95.9 L1443.9,95.4 L1448.9,95 L1453.9,94.6 L1458.9,94.2 L1463.9,93.7 L1468.8,93.3 L1473.8,92.9 L1478.8,92.5 L1483.8,92.1 L1488.7,91.8 L1493.7,91.4 L1498.7,91 L1503.6,90.7 L1508.6,90.3 L1513.6,90 L1518.5,89.6 L1523.5,89.3 L1528.4,88.9 L1533.4,88.6 L1538.4,88.3 L1543.3,88 L1548.3,87.7 L1553.3,87.4 L1558.2,87.1 L1563.2,86.8 L1568.1,86.5 L1573.1,86.2 L1578.1,86 L1583,85.7 L1588,85.4 L1593,85.2 L1598,84.9 L1602.9,84.7 L1607.9,84.4 L1612.9,84.2 L1617.9,84 L1622.9,83.8 L1627.9,83.5 L1632.9,83.3 L1637.9,83.1 L1642.9,82.9 L1647.9,82.7 L1652.9,82.5 L1657.9,82.3 L1662.9,82.1 L1667.9,81.9 L1672.9,81.8 L1678,81.6 L1683,81.4 L1688,81.3 L1693.1,81.1 L1698.1,80.9 L1703.2,80.8 L1708.2,80.6 L1713.3,80.5 L1718.3,80.3 L1723.4,80.2 L1728.5,80.1 L1733.6,79.9 L1738.7,79.8 L1743.8,79.7 L1748.9,79.6 L1754,79.5 L1759.1,79.3 L1764.2,79.2 L1769.4,79.1 L1774.5,79 L1779.7,78.9 L1784.1,76.8" fill="none" stroke="#ff7f0e" stroke-width="3.5" stroke-linejoin="round" stroke-dasharray="12.95,5.6"/>
<path d="M979.5,616.5 L979.4,611 L979.7,606.2 L980.1,601.4 L980.4,596.6 L980.7,591.8 L980.9,586.9 L981.2,582.1 L981.4,577.2 L981.6,572.3 L981.8,567.4 L982,562.5 L982.1,557.5 L982.3,552.6 L982.4,547.6 L982.5,542.6 L982.7,537.6 L982.7,532.6 L982.8,527.6 L982.9,522.5 L983,517.5 L983.1,512.4 L983.1,507.4 L983.2,502.3 L983.2,497.2 L983.3,492.1 L983.3,487 L983.3,481.9 L983.4,476.8 L983.4,471.7 L983.5,466.6 L983.5,461.4 L983.6,456.3 L983.6,451.2 L983.7,446 L983.7,440.9 L983.8,435.8 L983.9,430.6 L984,425.5 L984.1,420.3 L984.2,415.2 L984.3,410.1 L984.4,404.9 L984.6,399.8 L984.7,394.6 L984.9,389.5 L985.1,384.4 L985.3,379.3 L985.6,374.2 L985.8,369 L986.1,363.9 L986.4,358.8 L986.7,353.8 L987,348.7 L987.4,343.6 L987.7,338.6 L988.1,333.5 L988.6,328.5 L989,323.4 L989.5,318.4 L990.1,313.4 L990.7,308.4 L991.3,303.5 L992.1,298.6 L992.9,293.6 L993.8,288.8 L994.7,283.9 L995.8,279.1 L997,274.4 L998.4,269.6 L999.8,264.9 L1001.4,260.3 L1003.1,255.7 L1005,251.2 L1007,246.7 L1009.2,242.2 L1011.4,237.9 L1013.9,233.6 L1016.4,229.3 L1019,225.1 L1021.8,221 L1024.7,216.9 L1027.7,213 L1030.8,209.1 L1034,205.2 L1037.2,201.5 L1040.6,197.8 L1044.1,194.2 L1047.6,190.7 L1051.3,187.2 L1054.9,183.8 L1058.7,180.6 L1062.6,177.3 L1066.5,174.2 L1070.4,171.1 L1074.4,168.1 L1078.5,165.2 L1082.6,162.4 L1086.8,159.6 L1091,157 L1095.2,154.3 L1099.5,151.8 L1103.8,149.3 L1108.2,146.9 L1112.6,144.6 L1117,142.3 L1121.5,140.1 L1126,138 L1130.5,135.9 L1135.1,133.9 L1139.7,132 L1144.3,130.1 L1149,128.3 L1153.7,126.5 L1158.4,124.8 L1163.2,123.1 L1168,121.5 L1172.8,119.9 L1177.6,118.4 L1182.4,116.9 L1187.3,115.5 L1192.2,114.1 L1197.1,112.8 L1202,111.5 L1206.9,110.3 L1211.9,109.1 L1216.8,107.9 L1221.8,106.8 L1226.8,105.7 L1231.8,104.6 L1236.8,103.6 L1241.8,102.6 L1246.8,101.7 L1251.8,100.8 L1256.9,99.9 L1261.9,99 L1267,98.2 L1272,97.3 L1277,96.5 L1282.1,95.8 L1287.1,95 L1292.2,94.3 L1297.2,93.6 L1302.2,92.9 L1307.3,92.2 L1312.3,91.6 L1317.3,91 L1322.3,90.3 L1327.3,89.8 L1332.4,89.2 L1337.4,88.6 L1342.4,88.1 L1347.4,87.6 L1352.4,87 L1357.4,86.6 L1362.4,86.1 L1367.4,85.6 L1372.4,85.2 L1377.4,84.7 L1382.4,84.3 L1387.4,83.9 L1392.4,83.6 L1397.4,83.2 L1402.4,82.8 L1407.4,82.5 L1412.4,82.2 L1417.4,81.8 L1422.4,81.5 L1427.4,81.3 L1432.4,81 L1437.3,80.7 L1442.3,80.5 L1447.3,80.2 L1452.3,80 L1457.3,79.8 L1462.3,79.6 L1467.3,79.4 L1472.3,79.2 L1477.2,79 L1482.2,78.9 L1487.2,78.7 L1492.2,78.6 L1497.2,78.4 L1502.2,78.3 L1507.2,78.2 L1512.1,78.1 L1517.1,78 L1522.1,77.9 L1527.1,77.8 L1532.1,77.7 L1537.1,77.6 L1542.1,77.5 L1547.1,77.5 L1552.1,77.4 L1557.1,77.4 L1562.1,77.3 L1567.1,77.3 L1572.1,77.3 L1577.1,77.2 L1582.1,77.2 L1587.1,77.2 L1592.1,77.2 L1597.1,77.2 L1602.1,77.1 L1607.1,77.1 L1612.1,77.1 L1617.2,77.1 L1622.2,77.1 L1627.2,77.1 L1632.2,77.1 L1637.2,77.1 L1642.3,77.2 L1647.3,77.2 L1652.3,77.2 L1657.4,77.2 L1662.4,77.2 L1667.5,77.2 L1672.5,77.2 L1677.5,77.2 L1682.6,77.2 L1687.7,77.2 L1692.7,77.2 L1697.8,77.2 L1702.8,77.2 L1707.9,77.2 L1713,77.2 L1718,77.2 L1723.1,77.2 L1728.2,77.2 L1733.3,77.2 L1738.4,77.2 L1743.5,77.2 L1748.6,77.1 L1753.7,77.1 L1758.8,77.1 L1763.9,77 L1769,77 L1774.1,76.9 L1779.3,76.9 L1784.1,76.8" fill="none" stroke="#2ca02c" stroke-width="3.5" stroke-linejoin="round" stroke-dasharray="22.4,5.6,3.5,5.6"/>
<path d="M979.5,616.5 L979.3,611 L979.7,606.2 L980,601.4 L980.2,596.6 L980.5,591.7 L980.7,586.9 L981,582 L981.2,577.1 L981.4,572.2 L981.5,567.3 L981.7,562.4 L981.9,557.4 L982,552.4 L982.1,547.5 L982.3,542.5 L982.4,537.5 L982.5,532.4 L982.6,527.4 L982.6,522.4 L982.7,517.3 L982.8,512.3 L982.8,507.2 L982.9,502.1 L983,497.1 L983,492 L983,486.9 L983.1,481.8 L983.1,476.7 L983.2,471.5 L983.2,466.4 L983.2,461.3 L983.3,456.2 L983.3,451.1 L983.4,445.9 L983.4,440.8 L983.5,435.7 L983.5,430.6 L983.6,425.4 L983.7,420.3 L983.8,415.2 L983.8,410 L983.9,404.9 L984,399.8 L984.1,394.7 L984.3,389.6 L984.4,384.5 L984.5,379.4 L984.7,374.3 L984.9,369.2 L985.1,364.1 L985.3,359 L985.5,353.9 L985.7,348.9 L986,343.8 L986.2,338.8 L986.5,333.8 L986.8,328.7 L987.1,323.7 L987.5,318.7 L987.9,313.7 L988.3,308.8 L988.8,303.8 L989.4,298.9 L990,293.9 L990.7,289 L991.5,284.1 L992.4,279.2 L993.4,274.4 L994.5,269.5 L995.7,264.7 L997.1,259.9 L998.6,255.1 L1000.2,250.3 L1002,245.6 L1003.9,241 L1006,236.4 L1008.2,231.8 L1010.5,227.4 L1013,223.1 L1015.7,218.8 L1018.4,214.7 L1021.4,210.7 L1024.4,206.9 L1027.7,203.3 L1031,199.8 L1034.5,196.4 L1038.2,193.3 L1042,190.3 L1045.8,187.4 L1049.8,184.6 L1053.9,182 L1058.1,179.5 L1062.3,177.1 L1066.7,174.7 L1071,172.5 L1075.4,170.2 L1079.9,168.1 L1084.4,165.9 L1088.9,163.9 L1093.4,161.8 L1097.9,159.8 L1102.5,157.8 L1107.1,155.9 L1111.8,153.9 L1116.4,152.1 L1121.1,150.2 L1125.8,148.4 L1130.5,146.7 L1135.2,144.9 L1140,143.2 L1144.7,141.6 L1149.5,139.9 L1154.3,138.3 L1159.1,136.8 L1164,135.2 L1168.8,133.7 L1173.7,132.3 L1178.6,130.8 L1183.5,129.4 L1188.4,128 L1193.3,126.7 L1198.2,125.3 L1203.1,124.1 L1208.1,122.8 L1213,121.6 L1218,120.3 L1223,119.2 L1228,118 L1232.9,116.9 L1237.9,115.8 L1242.9,114.7 L1247.9,113.7 L1252.9,112.7 L1257.9,111.7 L1262.9,110.7 L1267.9,109.7 L1272.9,108.8 L1277.9,107.9 L1282.9,107.1 L1287.9,106.2 L1292.9,105.4 L1297.9,104.6 L1302.9,103.8 L1307.9,103 L1312.9,102.3 L1317.9,101.6 L1322.9,100.9 L1327.9,100.2 L1332.8,99.5 L1337.8,98.9 L1342.8,98.3 L1347.8,97.6 L1352.8,97.1 L1357.8,96.5 L1362.8,95.9 L1367.8,95.4 L1372.8,94.9 L1377.8,94.4 L1382.7,93.9 L1387.7,93.5 L1392.7,93 L1397.7,92.6 L1402.7,92.1 L1407.7,91.7 L1412.7,91.4 L1417.7,91 L1422.7,90.6 L1427.6,90.3 L1432.6,89.9 L1437.6,89.6 L1442.6,89.3 L1447.6,89 L1452.6,88.7 L1457.6,88.4 L1462.6,88.1 L1467.6,87.9 L1472.6,87.6 L1477.5,87.4 L1482.5,87.1 L1487.5,86.9 L1492.5,86.7 L1497.5,86.5 L1502.5,86.3 L1507.5,86.1 L1512.5,85.9 L1517.5,85.7 L1522.5,85.5 L1527.5,85.4 L1532.5,85.2 L1537.5,85 L1542.5,84.9 L1547.5,84.7 L1552.5,84.6 L1557.5,84.5 L1562.5,84.3 L1567.5,84.2 L1572.5,84 L1577.5,83.9 L1582.6,83.8 L1587.6,83.7 L1592.6,83.5 L1597.6,83.4 L1602.6,83.3 L1607.6,83.1 L1612.7,83 L1617.7,82.9 L1622.7,82.8 L1627.7,82.6 L1632.8,82.5 L1637.8,82.4 L1642.8,82.2 L1647.8,82.1 L1652.9,81.9 L1657.9,81.8 L1662.9,81.6 L1668,81.5 L1673,81.3 L1678.1,81.2 L1683.1,81 L1688.2,80.8 L1693.2,80.6 L1698.3,80.5 L1703.3,80.3 L1708.4,80.1 L1713.4,79.8 L1718.5,79.6 L1723.5,79.4 L1728.6,79.2 L1733.7,78.9 L1738.7,78.7 L1743.8,78.4 L1748.9,78.1 L1754,77.8 L1759,77.5 L1764.1,77.2 L1769.2,76.9 L1774.3,76.6 L1779.4,76.2 L1784.1,76.8" fill="none" stroke="#9467bd" stroke-width="3.5" stroke-linejoin="round" stroke-dasharray="3.5,5.78"/>
<path d="M979.5,616.5 L979.4,611.2 L979.7,606.3 L980.1,601.4 L980.4,596.5 L980.8,591.6 L981,586.7 L981.3,581.8 L981.5,576.8 L981.8,571.8 L982,566.9 L982.1,561.9 L982.3,556.9 L982.4,551.9 L982.6,546.8 L982.7,541.8 L982.8,536.8 L982.9,531.7 L982.9,526.7 L983,521.6 L983.1,516.6 L983.1,511.5 L983.2,506.4 L983.2,501.3 L983.2,496.3 L983.2,491.2 L983.3,486.1 L983.3,481 L983.3,475.9 L983.3,470.8 L983.3,465.7 L983.4,460.6 L983.4,455.4 L983.4,450.3 L983.4,445.2 L983.5,440.1 L983.5,435 L983.6,429.9 L983.7,424.8 L983.7,419.7 L983.8,414.6 L983.9,409.5 L984.1,404.4 L984.2,399.3 L984.3,394.2 L984.5,389.1 L984.7,384 L984.9,379 L985.1,373.9 L985.4,368.8 L985.6,363.8 L985.9,358.7 L986.2,353.7 L986.6,348.7 L987,343.7 L987.4,338.7 L987.8,333.6 L988.2,328.7 L988.7,323.7 L989.3,318.7 L989.8,313.7 L990.5,308.8 L991.1,303.9 L991.9,298.9 L992.7,294 L993.6,289.1 L994.6,284.3 L995.7,279.4 L996.9,274.6 L998.2,269.7 L999.6,264.9 L1001.1,260.1 L1002.8,255.3 L1004.6,250.6 L1006.5,245.8 L1008.5,241.2 L1010.7,236.5 L1013,232 L1015.4,227.5 L1018,223.1 L1020.7,218.8 L1023.5,214.6 L1026.4,210.5 L1029.5,206.5 L1032.7,202.7 L1036.1,199 L1039.5,195.4 L1043.1,192 L1046.8,188.8 L1050.6,185.6 L1054.5,182.6 L1058.5,179.6 L1062.6,176.8 L1066.7,174.1 L1070.9,171.5 L1075.1,169 L1079.4,166.6 L1083.8,164.2 L1088.1,161.9 L1092.5,159.7 L1097,157.6 L1101.4,155.5 L1106,153.5 L1110.5,151.5 L1115.1,149.7 L1119.7,147.8 L1124.3,146.1 L1129,144.3 L1133.6,142.7 L1138.3,141 L1143.1,139.4 L1147.8,137.9 L1152.6,136.4 L1157.4,134.9 L1162.3,133.5 L1167.1,132.1 L1172,130.7 L1176.8,129.3 L1181.7,128 L1186.7,126.6 L1191.6,125.3 L1196.5,124.1 L1201.5,122.8 L1206.5,121.6 L1211.4,120.4 L1216.4,119.2 L1221.4,118 L1226.4,116.8 L1231.5,115.7 L1236.5,114.6 L1241.5,113.5 L1246.5,112.4 L1251.6,111.4 L1256.6,110.4 L1261.6,109.4 L1266.7,108.4 L1271.7,107.5 L1276.8,106.5 L1281.8,105.6 L1286.8,104.8 L1291.9,103.9 L1296.9,103.1 L1301.9,102.2 L1306.9,101.4 L1311.9,100.7 L1317,99.9 L1322,99.2 L1327,98.5 L1332,97.8 L1337,97.1 L1342,96.4 L1347,95.8 L1352.1,95.2 L1357.1,94.6 L1362.1,94 L1367.1,93.4 L1372.1,92.9 L1377.1,92.4 L1382.1,91.8 L1387.1,91.3 L1392.1,90.9 L1397.1,90.4 L1402.1,89.9 L1407.1,89.5 L1412.1,89.1 L1417.1,88.7 L1422,88.3 L1427,87.9 L1432,87.5 L1437,87.2 L1442,86.8 L1447,86.5 L1452,86.2 L1457,85.9 L1462,85.6 L1467,85.3 L1472,85 L1477,84.8 L1482,84.5 L1487,84.3 L1492,84.1 L1496.9,83.8 L1501.9,83.6 L1506.9,83.4 L1511.9,83.2 L1516.9,83 L1521.9,82.9 L1526.9,82.7 L1531.9,82.5 L1536.9,82.4 L1541.9,82.2 L1546.9,82.1 L1551.9,81.9 L1556.9,81.8 L1562,81.7 L1567,81.5 L1572,81.4 L1577,81.3 L1582,81.2 L1587,81.1 L1592,81 L1597,80.9 L1602.1,80.8 L1607.1,80.7 L1612.1,80.6 L1617.1,80.5 L1622.2,80.4 L1627.2,80.3 L1632.2,80.2 L1637.3,80.1 L1642.3,80 L1647.3,79.9 L1652.4,79.8 L1657.4,79.8 L1662.5,79.7 L1667.5,79.6 L1672.6,79.5 L1677.6,79.4 L1682.7,79.3 L1687.8,79.2 L1692.8,79.1 L1697.9,79 L1703,78.8 L1708,78.7 L1713.1,78.6 L1718.2,78.5 L1723.3,78.4 L1728.4,78.2 L1733.5,78.1 L1738.6,77.9 L1743.7,77.8 L1748.8,77.6 L1753.9,77.4 L1759,77.3 L1764.1,77.1 L1769.2,76.9 L1774.3,76.7 L1779.5,76.5 L1784.1,76.8" fill="none" stroke="#8c564b" stroke-width="3.5" stroke-linejoin="round"/>
<path d="M979.5,616.5 L979.4,611.2 L979.6,606.3 L979.9,601.4 L980.1,596.5 L980.3,591.6 L980.6,586.7 L980.8,581.7 L980.9,576.8 L981.1,571.8 L981.3,566.9 L981.5,561.9 L981.6,556.9 L981.8,551.9 L981.9,547 L982,542 L982.2,537 L982.3,532 L982.4,526.9 L982.5,521.9 L982.6,516.9 L982.7,511.9 L982.8,506.8 L982.9,501.8 L982.9,496.8 L983,491.7 L983.1,486.7 L983.1,481.6 L983.2,476.5 L983.3,471.5 L983.3,466.4 L983.4,461.4 L983.4,456.3 L983.5,451.2 L983.5,446.2 L983.5,441.1 L983.6,436 L983.6,430.9 L983.7,425.9 L983.7,420.8 L983.8,415.7 L983.8,410.7 L983.8,405.6 L983.9,400.5 L983.9,395.4 L984,390.4 L984,385.3 L984.1,380.2 L984.1,375.2 L984.2,370.1 L984.3,365.1 L984.3,360 L984.4,355 L984.5,349.9 L984.5,344.9 L984.6,339.8 L984.7,334.8 L984.8,329.8 L984.9,324.7 L985,319.7 L985.1,314.7 L985.3,309.7 L985.5,304.7 L985.7,299.7 L986,294.7 L986.4,289.7 L986.8,284.8 L987.4,279.8 L988,274.8 L988.7,269.9 L989.5,264.9 L990.4,260 L991.4,255.1 L992.6,250.2 L993.8,245.3 L995.3,240.5 L996.8,235.7 L998.5,230.9 L1000.3,226.2 L1002.3,221.6 L1004.4,217.1 L1006.7,212.6 L1009.1,208.3 L1011.6,204.1 L1014.4,200 L1017.3,196 L1020.3,192.1 L1023.5,188.4 L1026.8,184.7 L1030.3,181.2 L1033.8,177.8 L1037.5,174.5 L1041.3,171.3 L1045.1,168.3 L1049.1,165.3 L1053.1,162.4 L1057.2,159.6 L1061.3,156.9 L1065.5,154.3 L1069.8,151.8 L1074,149.3 L1078.4,147 L1082.7,144.7 L1087.1,142.5 L1091.6,140.4 L1096.1,138.3 L1100.6,136.4 L1105.1,134.5 L1109.7,132.6 L1114.4,130.9 L1119,129.2 L1123.7,127.5 L1128.4,125.9 L1133.2,124.4 L1137.9,123 L1142.7,121.6 L1147.6,120.2 L1152.4,119 L1157.3,117.7 L1162.2,116.5 L1167.1,115.4 L1172.1,114.3 L1177,113.2 L1182,112.2 L1187,111.3 L1192,110.3 L1197,109.5 L1202,108.6 L1207.1,107.8 L1212.1,107 L1217.2,106.2 L1222.3,105.5 L1227.4,104.8 L1232.4,104.1 L1237.5,103.4 L1242.6,102.8 L1247.7,102.2 L1252.8,101.6 L1257.9,101 L1263,100.4 L1268.1,99.9 L1273.2,99.3 L1278.2,98.8 L1283.3,98.2 L1288.4,97.7 L1293.4,97.2 L1298.5,96.6 L1303.6,96.1 L1308.6,95.6 L1313.6,95.1 L1318.7,94.7 L1323.7,94.2 L1328.8,93.7 L1333.8,93.2 L1338.8,92.8 L1343.8,92.3 L1348.8,91.9 L1353.9,91.4 L1358.9,91 L1363.9,90.6 L1368.9,90.2 L1373.9,89.7 L1378.9,89.3 L1383.9,88.9 L1388.8,88.6 L1393.8,88.2 L1398.8,87.8 L1403.8,87.4 L1408.8,87.1 L1413.8,86.7 L1418.7,86.4 L1423.7,86 L1428.7,85.7 L1433.6,85.3 L1438.6,85 L1443.6,84.7 L1448.5,84.4 L1453.5,84.1 L1458.5,83.8 L1463.4,83.5 L1468.4,83.2 L1473.4,82.9 L1478.3,82.7 L1483.3,82.4 L1488.2,82.1 L1493.2,81.9 L1498.2,81.6 L1503.1,81.4 L1508.1,81.2 L1513,80.9 L1518,80.7 L1523,80.5 L1527.9,80.3 L1532.9,80.1 L1537.8,79.9 L1542.8,79.7 L1547.8,79.5 L1552.7,79.3 L1557.7,79.2 L1562.7,79 L1567.7,78.8 L1572.6,78.7 L1577.6,78.5 L1582.6,78.4 L1587.6,78.3 L1592.5,78.1 L1597.5,78 L1602.5,77.9 L1607.5,77.8 L1612.5,77.7 L1617.5,77.6 L1622.5,77.5 L1627.5,77.4 L1632.5,77.3 L1637.5,77.2 L1642.5,77.1 L1647.5,77.1 L1652.6,77 L1657.6,77 L1662.6,76.9 L1667.6,76.9 L1672.7,76.8 L1677.7,76.8 L1682.8,76.8 L1687.8,76.7 L1692.9,76.7 L1697.9,76.7 L1703,76.7 L1708.1,76.7 L1713.1,76.7 L1718.2,76.7 L1723.3,76.7 L1728.4,76.8 L1733.5,76.8 L1738.6,76.8 L1743.7,76.9 L1748.8,76.9 L1753.9,76.9 L1759.1,77 L1764.2,77.1 L1769.4,77.1 L1774.5,77.2 L1779.7,77.3 L1784.1,76.8" fill="none" stroke="#d62728" stroke-width="4.86" stroke-linejoin="round"/>
</g>
<rect x="979.2" y="49.8" width="804.9" height="566.7" fill="none" stroke="#000" stroke-width="1.8"/>
<path d="M979.2,616.5v4.7M979.2,616.5h-4.7M1140.2,616.5v4.7M979.2,508.6h-4.7M1301.2,616.5v4.7M979.2,400.6h-4.7M1462.1,616.5v4.7M979.2,292.7h-4.7M1623.1,616.5v4.7M979.2,184.7h-4.7M1784.1,616.5v4.7M979.2,76.8h-4.7" stroke="#000" stroke-width="1.3" fill="none"/>
<text x="979.2" y="642.7" text-anchor="middle" class="tk">0.0</text>
<text x="969.2" y="624.6" text-anchor="end" class="tk">0.0</text>
<text x="1140.2" y="642.7" text-anchor="middle" class="tk">0.2</text>
<text x="969.2" y="516.7" text-anchor="end" class="tk">0.2</text>
<text x="1301.2" y="642.7" text-anchor="middle" class="tk">0.4</text>
<text x="969.2" y="408.7" text-anchor="end" class="tk">0.4</text>
<text x="1462.1" y="642.7" text-anchor="middle" class="tk">0.6</text>
<text x="969.2" y="300.8" text-anchor="end" class="tk">0.6</text>
<text x="1623.1" y="642.7" text-anchor="middle" class="tk">0.8</text>
<text x="969.2" y="192.8" text-anchor="end" class="tk">0.8</text>
<text x="1784.1" y="642.7" text-anchor="middle" class="tk">1.0</text>
<text x="969.2" y="84.9" text-anchor="end" class="tk">1.0</text>
<text x="86.5" y="83.5" class="pl">(a)</text>
<text x="995.2" y="83.5" class="pl">(b)</text>
<text x="471.6" y="22" text-anchor="middle" class="ti">Precision-Recall Curve</text>
<text x="1381.7" y="22" text-anchor="middle" class="ti">ROC Curve</text>
<text x="471.6" y="669.5" text-anchor="middle" class="lb">Recall</text>
<text x="1381.7" y="669.5" text-anchor="middle" class="lb">False Positive Rate</text>
<text transform="translate(17.6,333.1) rotate(-90)" text-anchor="middle" class="lb">Precision</text>
<text transform="translate(927.6,333.1) rotate(-90)" text-anchor="middle" class="lb">True Positive Rate</text>
<rect x="81" y="456.4" width="433" height="154.7" rx="3.5" fill="#b0b0b0"/>
<rect x="78" y="452.9" width="433" height="154.7" rx="3.5" fill="#fff" stroke="#cccccc" stroke-width="1"/>
<path d="M84.5,466.3H117.8" stroke="#1f77b4" stroke-width="3.5" stroke-linecap="square"/>
<text x="132.8" y="473" class="lg">EEGNet (AUC = 0.6415±0.0013)</text>
<path d="M84.5,491.4H117.8" stroke="#ff7f0e" stroke-width="3.5" stroke-dasharray="12.95,5.6"/>
<text x="132.8" y="498.1" class="lg">EEG-TCNet (AUC = 0.6111±0.0092)</text>
<path d="M84.5,516.5H117.8" stroke="#2ca02c" stroke-width="3.5" stroke-dasharray="22.4,5.6,3.5,5.6"/>
<text x="132.8" y="523.2" class="lg">ShallowCNN-Trans. (AUC = 0.7024±0.0152)</text>
<path d="M84.5,541.6H117.8" stroke="#9467bd" stroke-width="3.5" stroke-dasharray="3.5,5.78"/>
<text x="132.8" y="548.3" class="lg">EEGNet-Trans. (AUC = 0.6980±0.0097)</text>
<path d="M84.5,566.7H117.8" stroke="#8c564b" stroke-width="3.5" stroke-linecap="square"/>
<text x="132.8" y="573.4" class="lg">EEG2ViT (AUC = 0.6662±0.0153)</text>
<path d="M84.5,591.8H117.8" stroke="#d62728" stroke-width="4.86" stroke-linecap="square"/>
<text x="132.8" y="598.5" class="lg">EEG-VL (AUC = 0.7599±0.0053)</text>
<rect x="1367" y="431.8" width="411.4" height="180.1" rx="3.5" fill="#b0b0b0"/>
<rect x="1364" y="428.3" width="411.4" height="180.1" rx="3.5" fill="#fff" stroke="#cccccc" stroke-width="1"/>
<path d="M1371.3,440.9H1404.6" stroke="#1f77b4" stroke-width="3.5" stroke-linecap="square"/>
<text x="1417.9" y="447.6" class="lg">EEGNet (AUC = 0.918±0.001)</text>
<path d="M1371.3,466H1404.6" stroke="#ff7f0e" stroke-width="3.5" stroke-dasharray="12.95,5.6"/>
<text x="1417.9" y="472.7" class="lg">EEG-TCNet (AUC = 0.908±0.004)</text>
<path d="M1371.3,491.1H1404.6" stroke="#2ca02c" stroke-width="3.5" stroke-dasharray="22.4,5.6,3.5,5.6"/>
<text x="1417.9" y="497.8" class="lg">ShallowCNN-Trans. (AUC = 0.939±0.002)</text>
<path d="M1371.3,516.2H1404.6" stroke="#9467bd" stroke-width="3.5" stroke-dasharray="3.5,5.78"/>
<text x="1417.9" y="522.9" class="lg">EEGNet-Trans. (AUC = 0.927±0.000)</text>
<path d="M1371.3,541.3H1404.6" stroke="#8c564b" stroke-width="3.5" stroke-linecap="square"/>
<text x="1417.9" y="548" class="lg">EEG2ViT (AUC = 0.929±0.002)</text>
<path d="M1371.3,566.4H1404.6" stroke="#d62728" stroke-width="4.86" stroke-linecap="square"/>
<text x="1417.9" y="573.1" class="lg">EEG-VL (AUC = 0.947±0.001)</text>
<path d="M1371.3,591.5H1404.6" stroke="#a8a8a8" stroke-width="2.6" stroke-dasharray="10.3,4.4"/>
<text x="1417.9" y="598.2" class="lg">Random</text>
</svg>
</body></html>
